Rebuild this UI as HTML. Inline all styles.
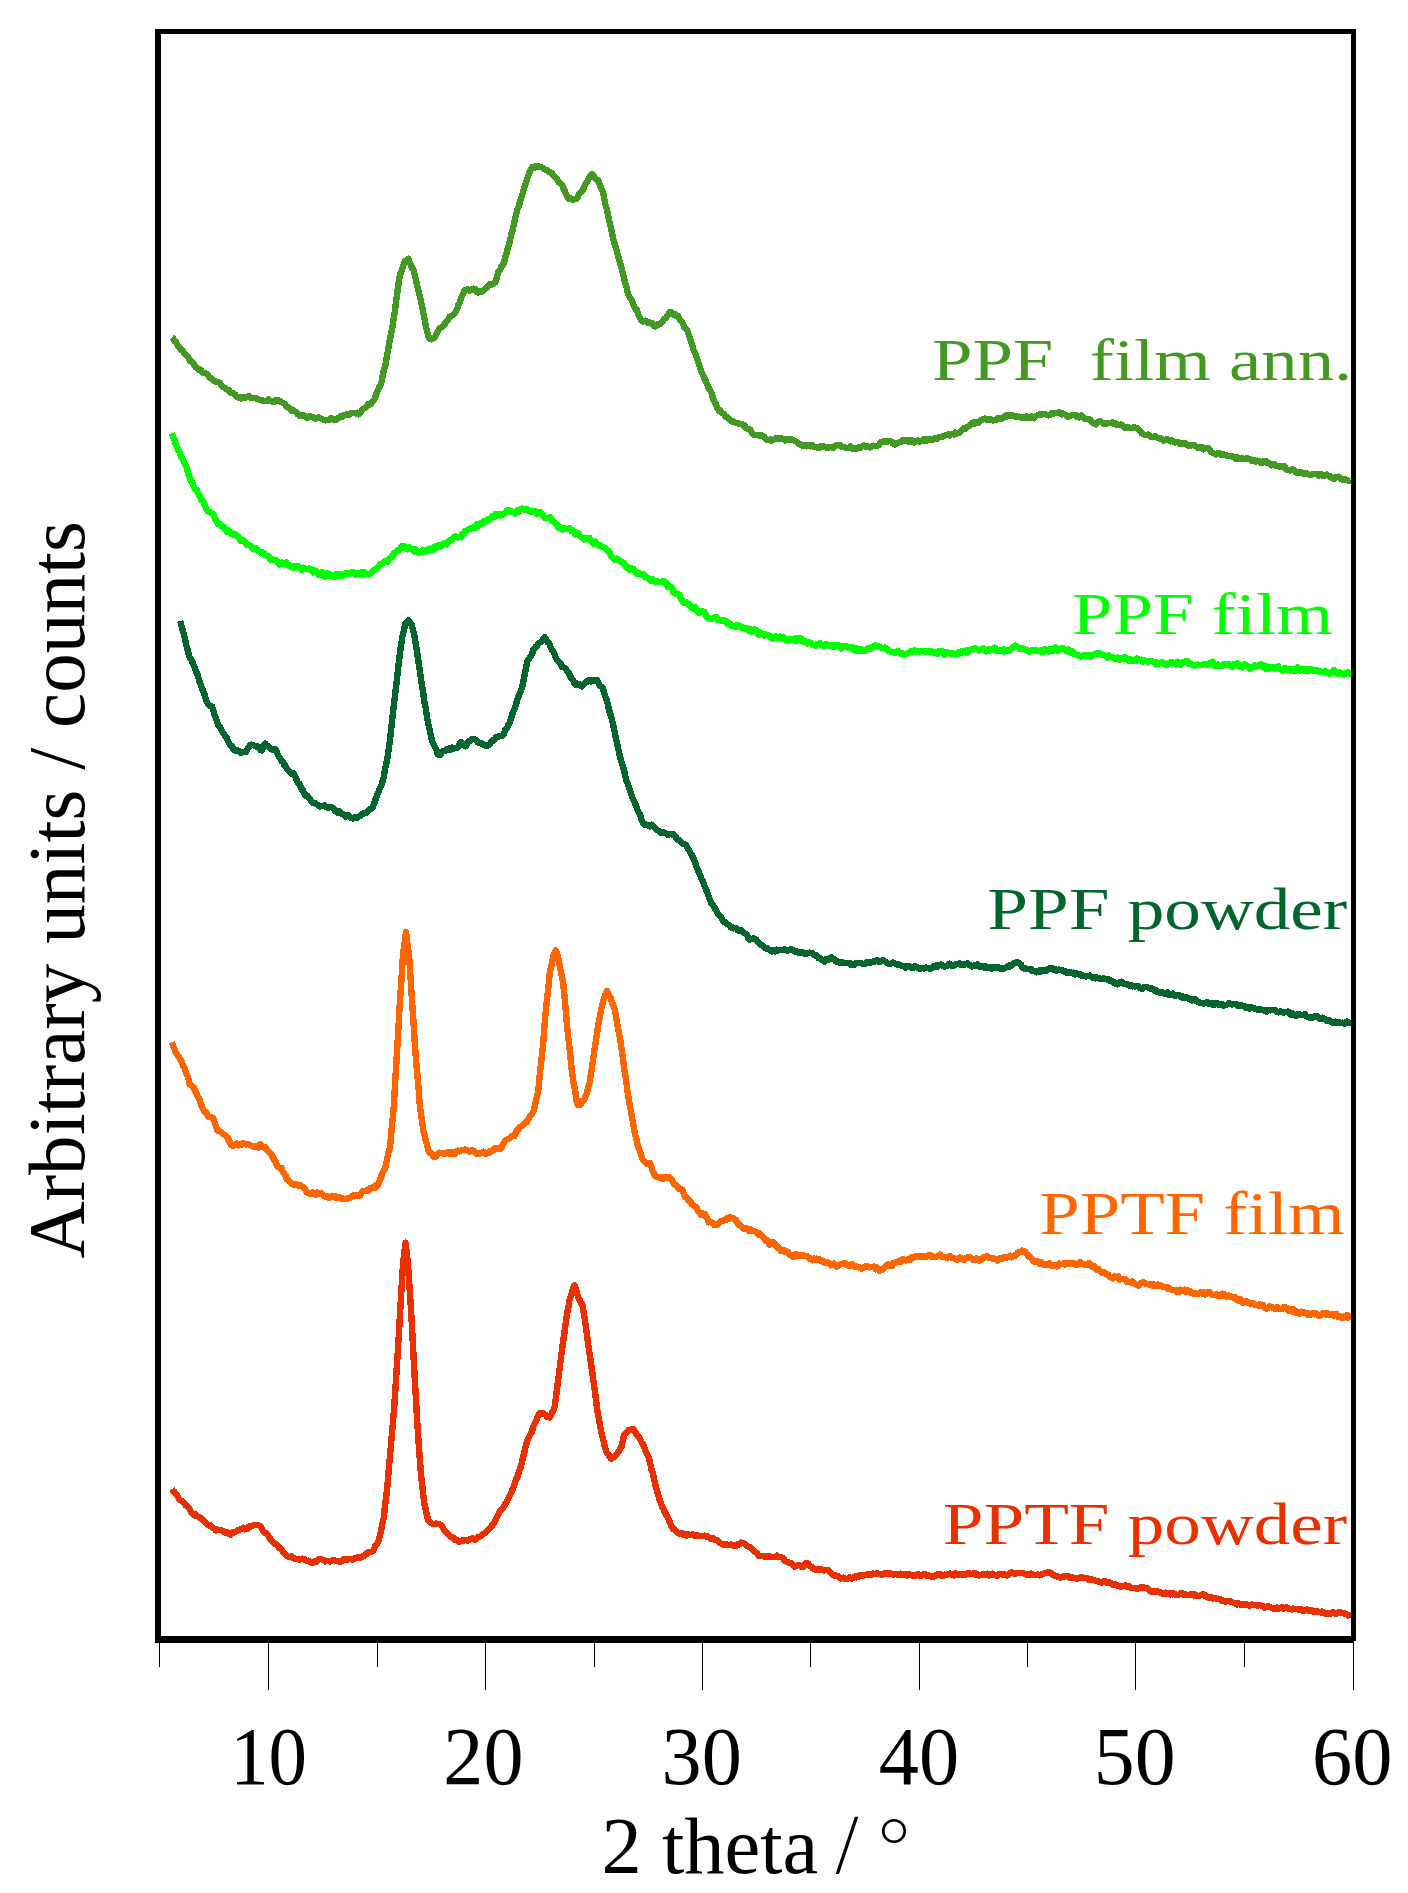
<!DOCTYPE html>
<html><head><meta charset="utf-8"><title>XRD</title>
<style>
html,body{margin:0;padding:0;background:#fff;}
body{width:1408px;height:1893px;overflow:hidden;font-family:"Liberation Serif",serif;}
.s{font-family:"Liberation Serif",serif;}
</style></head><body>
<svg width="1408" height="1893" viewBox="0 0 1408 1893" style="display:block">
<rect x="0" y="0" width="1408" height="1893" fill="#fff"/>
<path d="M171.9,337.4 L173.2,338.4 L174.5,341.2 L175.9,342.0 L177.2,344.6 L178.5,346.4 L179.8,348.2 L181.2,349.9 L182.7,350.7 L184.1,353.1 L185.5,354.1 L186.9,355.6 L188.4,358.0 L189.8,360.9 L191.2,361.2 L192.6,362.3 L194.0,364.5 L195.5,367.1 L196.9,368.0 L198.3,368.6 L199.7,370.4 L201.1,370.3 L202.5,372.7 L203.8,372.8 L205.2,373.1 L206.6,373.7 L208.0,375.1 L209.3,377.6 L210.7,377.7 L212.1,379.4 L213.5,380.7 L214.9,381.1 L216.3,382.3 L217.7,382.1 L219.0,382.6 L220.4,383.7 L221.8,386.0 L223.2,386.9 L224.6,387.9 L226.0,388.9 L227.3,389.6 L228.7,390.0 L230.0,391.9 L231.4,393.0 L232.7,392.8 L234.1,394.0 L235.4,394.9 L236.8,396.6 L238.1,397.5 L239.5,397.3 L240.9,398.6 L242.2,396.9 L243.6,397.0 L244.9,398.0 L246.3,396.8 L247.6,397.2 L249.0,396.3 L250.3,397.5 L251.7,398.3 L253.0,398.2 L254.4,398.3 L255.8,398.2 L257.2,399.0 L258.6,399.4 L260.1,399.7 L261.5,399.7 L262.9,400.9 L264.3,400.9 L265.7,401.0 L267.0,401.1 L268.4,399.5 L269.8,400.5 L271.1,400.9 L272.5,401.9 L273.9,401.9 L275.3,400.6 L276.6,400.2 L278.0,400.6 L279.4,400.5 L280.8,402.0 L282.2,402.6 L283.6,403.2 L285.0,404.0 L286.4,406.8 L287.8,406.9 L289.2,408.6 L290.6,408.9 L292.0,411.0 L293.3,410.3 L294.7,411.3 L296.1,412.3 L297.5,414.1 L298.8,415.1 L300.2,416.0 L301.6,415.2 L303.0,415.4 L304.4,415.5 L305.7,417.1 L307.1,418.2 L308.5,416.8 L309.9,416.4 L311.2,416.6 L312.6,416.8 L314.0,418.2 L315.4,418.5 L316.9,418.1 L318.3,417.3 L319.7,418.2 L321.1,418.5 L322.6,419.3 L324.0,420.0 L325.4,420.4 L326.7,419.8 L328.1,419.7 L329.4,419.7 L330.8,418.0 L332.1,419.3 L333.5,419.5 L334.8,419.8 L336.2,419.6 L337.5,418.4 L338.9,417.9 L340.3,416.5 L341.8,417.1 L343.2,415.6 L344.6,414.8 L346.0,414.6 L347.5,414.2 L348.9,415.0 L350.3,413.6 L351.7,413.0 L353.1,413.1 L354.6,412.9 L356.0,413.4 L357.4,412.6 L358.8,414.3 L360.3,413.2 L361.8,410.7 L363.3,409.0 L364.8,407.8 L366.3,406.9 L367.8,404.4 L369.2,404.6 L370.6,404.3 L372.1,402.0 L373.6,400.2 L375.0,398.1 L376.6,393.3 L378.1,390.0 L379.6,386.2 L381.2,383.7 L382.4,377.3 L383.6,370.8 L384.9,367.3 L386.1,361.3 L387.4,353.6 L388.6,347.3 L389.9,339.4 L391.1,333.7 L392.4,326.8 L393.6,319.1 L394.9,310.8 L396.1,301.6 L397.3,292.5 L398.6,283.2 L399.8,275.6 L401.2,271.5 L402.6,268.0 L404.0,263.0 L405.5,260.6 L407.0,260.2 L408.5,258.7 L409.8,262.5 L411.0,265.2 L412.2,268.0 L413.5,269.8 L414.8,274.8 L416.0,280.4 L417.2,285.6 L418.5,291.0 L420.1,297.2 L421.8,305.1 L423.4,313.5 L424.6,319.5 L425.9,326.4 L427.1,331.2 L428.4,336.9 L429.9,338.7 L431.5,339.3 L433.1,338.2 L434.6,337.9 L436.2,334.6 L437.7,331.7 L439.2,329.0 L440.8,327.6 L442.3,326.9 L443.8,325.5 L445.3,323.0 L446.8,321.4 L448.3,319.4 L449.8,316.7 L451.2,315.8 L452.6,315.1 L454.1,313.6 L455.6,311.9 L457.0,309.2 L458.5,304.6 L460.0,301.8 L461.4,297.3 L462.9,294.4 L464.4,290.5 L465.9,290.2 L467.4,289.5 L468.9,290.6 L470.4,290.4 L471.9,289.0 L473.4,288.7 L475.0,289.2 L476.6,291.8 L478.1,292.5 L479.6,290.9 L481.1,291.3 L482.6,291.4 L484.1,290.2 L485.6,288.4 L487.0,287.6 L488.4,285.6 L489.8,283.9 L491.3,285.0 L492.7,284.2 L494.1,283.0 L495.5,282.2 L497.1,276.5 L498.6,271.0 L499.9,270.3 L501.1,267.3 L502.4,265.1 L503.6,264.0 L505.2,257.6 L506.7,252.8 L508.2,246.8 L509.8,241.7 L511.3,234.2 L512.8,229.5 L514.3,222.4 L515.8,215.9 L517.3,209.7 L518.8,206.0 L520.3,200.5 L521.7,196.7 L523.2,191.3 L524.7,186.1 L526.3,182.0 L527.9,176.5 L529.4,172.8 L531.0,168.8 L532.5,166.9 L534.0,168.0 L535.4,166.5 L536.9,166.3 L538.4,166.3 L539.9,167.2 L541.4,167.3 L542.9,168.2 L544.4,169.2 L545.9,170.1 L547.4,170.2 L548.8,171.7 L550.2,172.2 L551.7,173.0 L553.1,175.3 L554.6,176.1 L556.1,178.0 L557.6,180.3 L559.0,182.6 L560.5,183.5 L562.0,184.9 L563.5,188.4 L565.1,191.7 L566.7,195.5 L568.2,198.5 L569.7,198.5 L571.2,198.4 L572.7,199.6 L574.2,199.4 L575.7,199.0 L577.2,198.2 L578.7,194.6 L580.2,192.7 L581.7,191.7 L583.2,189.1 L584.7,185.9 L586.1,182.8 L587.5,181.0 L589.0,178.0 L590.5,175.8 L591.9,174.1 L593.5,175.7 L595.0,177.9 L596.5,179.8 L598.1,179.7 L599.7,184.4 L601.4,188.7 L603.0,191.9 L604.2,198.5 L605.5,204.9 L606.8,209.0 L608.0,215.1 L609.5,221.7 L611.1,228.3 L612.7,236.4 L614.2,242.5 L615.7,247.2 L617.2,252.6 L618.7,258.3 L620.2,263.4 L621.7,268.9 L623.2,274.6 L624.8,281.9 L626.4,286.7 L627.9,293.9 L629.4,296.8 L630.9,298.7 L632.4,302.0 L633.9,305.9 L635.4,309.0 L636.9,310.3 L638.4,314.7 L639.8,317.6 L641.3,320.7 L642.8,321.4 L644.3,321.1 L645.8,320.7 L647.3,322.6 L648.8,322.3 L650.3,322.7 L651.8,323.1 L653.4,325.3 L655.0,326.4 L656.5,325.9 L658.0,323.8 L659.4,324.3 L660.9,322.9 L662.3,322.0 L663.8,319.4 L665.2,318.4 L666.6,316.9 L668.0,315.0 L669.5,312.1 L670.9,311.7 L672.2,313.1 L673.6,314.6 L674.9,314.0 L676.2,316.3 L677.6,315.8 L678.9,317.9 L680.4,320.1 L681.8,321.9 L683.2,324.5 L684.7,327.9 L686.1,329.0 L687.6,331.0 L689.1,336.0 L690.7,340.5 L692.2,344.9 L693.8,350.7 L695.3,353.4 L696.8,357.7 L698.2,362.0 L699.7,366.2 L701.2,371.3 L702.7,374.2 L704.2,378.0 L705.7,380.7 L707.2,384.3 L708.7,388.0 L710.2,390.5 L711.6,393.4 L713.0,398.3 L714.5,401.9 L716.0,404.4 L717.4,408.3 L718.8,410.7 L720.2,410.4 L721.6,412.8 L723.0,413.5 L724.4,414.7 L725.8,416.8 L727.2,417.3 L728.6,418.4 L730.0,419.6 L731.5,421.3 L733.0,420.8 L734.4,422.2 L735.8,422.9 L737.3,422.9 L738.8,423.7 L740.2,424.2 L741.6,424.1 L743.1,424.8 L744.5,425.5 L746.0,428.2 L747.4,428.6 L748.8,429.1 L750.2,429.6 L751.7,432.4 L753.1,434.3 L754.5,435.1 L755.9,435.1 L757.3,434.8 L758.6,435.0 L760.0,435.7 L761.3,435.4 L762.7,436.5 L764.2,436.5 L765.7,438.7 L767.2,440.1 L768.8,439.9 L770.3,439.3 L771.8,440.6 L773.1,440.0 L774.4,439.4 L775.7,438.0 L777.0,438.3 L778.3,438.6 L779.6,438.6 L780.9,438.2 L782.4,439.0 L784.0,438.7 L785.5,440.4 L787.0,439.3 L788.5,440.1 L790.0,439.5 L791.5,439.3 L793.0,439.9 L794.5,440.9 L795.8,441.5 L797.1,442.3 L798.4,443.5 L799.7,444.0 L801.0,444.7 L802.3,445.7 L803.6,444.9 L805.0,444.7 L806.5,446.3 L807.9,445.0 L809.3,446.0 L810.7,446.4 L812.1,445.1 L813.6,446.6 L815.0,446.9 L816.4,447.3 L817.9,447.4 L819.3,447.7 L820.8,446.0 L822.2,446.3 L823.7,446.4 L825.1,447.3 L826.6,447.6 L828.0,447.8 L829.5,447.2 L830.9,447.0 L832.3,447.6 L833.6,447.5 L835.0,446.3 L836.3,445.3 L837.7,445.1 L839.1,445.7 L840.4,445.3 L841.8,447.1 L843.1,447.2 L844.5,447.2 L845.9,447.7 L847.4,448.0 L848.8,447.7 L850.2,446.4 L851.6,448.0 L853.0,448.7 L854.5,448.4 L855.9,448.3 L857.3,448.5 L858.8,446.9 L860.2,447.7 L861.6,446.8 L863.0,445.7 L864.4,445.6 L865.9,446.7 L867.3,446.1 L868.6,446.6 L869.9,447.5 L871.2,446.6 L872.5,445.9 L873.8,445.7 L875.1,446.1 L876.4,445.9 L877.7,445.6 L879.0,445.0 L880.3,443.0 L881.6,441.9 L882.9,441.4 L884.2,442.1 L885.5,441.2 L887.0,441.8 L888.5,441.0 L890.0,441.0 L891.5,441.8 L893.0,443.5 L894.5,444.3 L895.9,444.3 L897.4,442.9 L898.8,442.6 L900.2,442.0 L901.6,441.5 L903.0,440.1 L904.5,441.2 L905.9,440.0 L907.3,441.3 L908.6,442.0 L910.0,440.0 L911.3,440.3 L912.7,441.5 L914.1,442.4 L915.4,441.6 L916.8,440.8 L918.1,440.4 L919.5,441.7 L920.8,440.7 L922.1,440.8 L923.4,439.5 L924.7,439.7 L926.0,440.8 L927.3,438.9 L928.6,439.3 L930.0,439.3 L931.5,440.0 L932.9,439.7 L934.3,438.3 L935.7,439.3 L937.1,438.7 L938.6,437.1 L940.0,437.3 L941.4,436.7 L942.9,436.6 L944.3,435.9 L945.7,435.0 L947.1,434.8 L948.5,434.5 L950.0,435.4 L951.4,434.1 L952.8,434.2 L954.1,434.6 L955.5,432.6 L956.8,433.6 L958.2,432.7 L959.7,432.8 L961.2,430.5 L962.8,429.2 L964.3,428.1 L965.8,428.7 L967.3,426.9 L968.6,426.0 L969.9,425.3 L971.2,424.3 L972.5,422.9 L973.8,422.1 L975.1,423.4 L976.4,422.5 L977.8,423.0 L979.2,421.3 L980.6,420.3 L982.0,420.2 L983.5,418.9 L984.9,418.6 L986.3,419.6 L987.7,418.8 L989.1,419.7 L990.6,419.4 L992.0,420.1 L993.4,420.5 L994.8,419.7 L996.2,419.9 L997.7,418.3 L999.1,419.2 L1000.5,418.5 L1001.8,418.5 L1003.2,417.9 L1004.5,416.3 L1005.9,415.4 L1007.2,416.4 L1008.5,415.2 L1009.8,415.5 L1011.1,415.3 L1012.4,415.1 L1013.7,416.2 L1015.0,416.4 L1016.5,416.3 L1018.0,417.1 L1019.5,416.7 L1021.1,417.4 L1022.6,417.5 L1024.1,417.8 L1025.5,416.7 L1026.9,416.4 L1028.4,418.0 L1029.8,417.5 L1031.2,416.4 L1032.7,417.6 L1034.1,418.3 L1035.5,416.6 L1036.9,415.6 L1038.3,415.0 L1039.7,414.4 L1041.2,414.7 L1042.6,414.1 L1044.0,414.1 L1045.4,414.1 L1046.8,415.0 L1048.3,415.4 L1049.9,415.0 L1051.4,413.5 L1052.9,413.3 L1054.4,413.4 L1056.0,413.1 L1057.5,412.8 L1059.0,412.0 L1060.5,412.9 L1062.0,414.6 L1063.5,413.7 L1065.0,414.6 L1066.5,415.6 L1068.0,416.9 L1069.5,416.3 L1070.8,415.5 L1072.2,415.0 L1073.5,415.1 L1074.8,415.1 L1076.2,416.4 L1077.5,415.7 L1079.0,417.3 L1080.4,415.8 L1081.9,415.4 L1083.3,417.3 L1084.8,419.0 L1086.2,418.9 L1087.7,419.3 L1089.1,418.7 L1090.4,419.8 L1091.8,422.0 L1093.1,423.2 L1094.5,423.3 L1095.9,424.6 L1097.2,422.9 L1098.6,421.7 L1100.0,421.3 L1101.3,422.1 L1102.7,422.8 L1104.1,423.8 L1105.5,423.7 L1106.8,423.4 L1108.2,422.9 L1109.7,423.1 L1111.1,423.3 L1112.6,422.2 L1114.0,423.8 L1115.5,423.2 L1116.9,424.9 L1118.4,424.6 L1119.7,424.8 L1121.1,424.6 L1122.4,425.1 L1123.7,426.8 L1125.1,428.0 L1126.4,427.9 L1127.9,426.7 L1129.4,427.6 L1131.0,428.1 L1132.5,427.9 L1134.0,427.3 L1135.5,428.2 L1137.0,427.9 L1138.5,429.1 L1140.0,430.5 L1141.5,433.1 L1143.0,433.9 L1144.5,434.6 L1146.0,435.1 L1147.5,434.6 L1149.0,434.6 L1150.6,436.7 L1152.1,437.2 L1153.6,436.8 L1155.0,435.9 L1156.4,437.1 L1157.9,438.3 L1159.3,438.4 L1160.7,438.2 L1162.2,439.5 L1163.6,440.9 L1165.0,440.1 L1166.4,439.1 L1167.8,439.6 L1169.3,440.2 L1170.7,441.3 L1172.1,440.6 L1173.6,442.0 L1175.0,442.6 L1176.4,442.2 L1177.8,441.8 L1179.2,443.7 L1180.6,443.0 L1182.1,444.2 L1183.5,443.4 L1184.9,443.2 L1186.3,444.7 L1187.7,444.6 L1189.1,446.1 L1190.5,445.8 L1192.0,445.0 L1193.4,444.9 L1194.8,445.5 L1196.2,446.6 L1197.7,448.0 L1199.1,446.9 L1200.5,447.0 L1201.9,447.0 L1203.4,449.3 L1204.8,448.4 L1206.2,448.0 L1207.7,448.1 L1209.1,449.3 L1210.5,451.1 L1211.9,452.6 L1213.3,452.9 L1214.7,454.0 L1216.2,454.5 L1217.6,453.5 L1219.0,452.8 L1220.4,454.7 L1221.8,454.7 L1223.2,454.0 L1224.7,455.3 L1226.1,455.4 L1227.5,455.7 L1228.9,456.0 L1230.3,455.9 L1231.8,455.7 L1233.2,457.4 L1234.6,457.0 L1236.0,458.8 L1237.4,457.5 L1238.8,459.1 L1240.3,457.9 L1241.7,457.8 L1243.1,458.9 L1244.5,458.8 L1245.9,459.1 L1247.3,458.1 L1248.8,459.0 L1250.2,459.3 L1251.6,461.1 L1253.1,460.2 L1254.5,460.5 L1255.9,461.7 L1257.3,460.7 L1258.8,461.2 L1260.2,462.5 L1261.6,463.1 L1263.0,461.6 L1264.5,461.0 L1265.9,461.0 L1267.3,463.1 L1268.7,462.8 L1270.1,464.1 L1271.5,465.3 L1272.9,464.6 L1274.4,464.3 L1275.8,466.1 L1277.2,466.3 L1278.6,465.8 L1280.0,466.8 L1281.4,466.6 L1282.9,466.7 L1284.3,466.2 L1285.7,468.3 L1287.2,469.9 L1288.6,470.1 L1290.0,470.4 L1291.4,469.6 L1292.8,469.6 L1294.3,470.4 L1295.7,472.2 L1297.1,473.2 L1298.6,472.4 L1300.0,471.9 L1301.4,472.5 L1302.8,472.7 L1304.2,474.0 L1305.6,472.8 L1307.1,473.9 L1308.5,474.4 L1309.9,474.8 L1311.3,475.0 L1312.7,474.2 L1314.1,474.1 L1315.5,474.0 L1317.0,474.1 L1318.4,475.5 L1319.8,474.4 L1321.2,474.4 L1322.7,475.9 L1324.1,475.9 L1325.5,474.8 L1326.9,474.6 L1328.4,475.9 L1329.8,475.9 L1331.2,477.8 L1332.7,478.4 L1334.1,479.1 L1335.5,477.4 L1337.0,476.8 L1338.5,476.7 L1340.0,478.0 L1341.5,479.3 L1343.0,479.5 L1344.5,479.7 L1345.8,479.6 L1347.1,480.3 L1348.4,480.8 L1349.7,481.3 L1351.0,480.5" fill="none" stroke="#439A23" stroke-width="6.4" stroke-linejoin="round" stroke-linecap="butt" shape-rendering="crispEdges"/>
<path d="M171.9,433.3 L173.2,437.6 L174.4,439.0 L175.7,444.3 L177.0,446.8 L178.4,450.2 L179.8,452.8 L181.3,457.1 L182.7,458.7 L184.1,462.1 L185.5,464.7 L186.9,468.0 L188.4,474.2 L189.8,477.9 L191.2,480.9 L192.6,482.9 L194.0,487.4 L195.4,489.0 L196.9,489.9 L198.3,493.8 L199.7,495.7 L201.1,500.2 L202.5,500.0 L203.9,502.8 L205.4,506.8 L206.8,510.1 L208.2,511.8 L209.6,511.8 L211.0,513.0 L212.5,513.7 L213.9,515.2 L215.3,519.7 L216.7,521.1 L218.2,523.9 L219.6,523.9 L221.0,525.7 L222.4,526.7 L223.8,526.6 L225.3,529.2 L226.7,531.6 L228.1,530.1 L229.5,531.9 L231.0,533.4 L232.4,533.1 L233.8,534.7 L235.2,534.4 L236.6,535.4 L238.1,536.6 L239.5,539.1 L240.9,541.0 L242.3,540.7 L243.8,540.5 L245.2,542.2 L246.6,545.0 L248.0,544.6 L249.4,545.3 L250.9,545.7 L252.3,548.5 L253.7,549.3 L255.2,548.2 L256.6,548.3 L258.0,550.7 L259.4,551.7 L260.8,553.3 L262.2,552.3 L263.6,552.6 L265.1,555.2 L266.5,555.8 L267.9,556.0 L269.3,557.3 L270.7,559.6 L272.1,558.9 L273.6,559.8 L275.0,559.8 L276.4,560.4 L277.8,562.7 L279.2,564.5 L280.7,563.3 L282.1,562.5 L283.5,564.2 L284.9,563.4 L286.3,562.3 L287.8,565.5 L289.2,565.2 L290.6,566.8 L292.0,566.1 L293.4,567.8 L294.9,567.1 L296.3,565.8 L297.7,566.3 L299.1,566.7 L300.5,568.0 L302.0,569.8 L303.4,567.7 L304.8,569.0 L306.2,568.8 L307.6,569.4 L309.1,568.5 L310.5,568.8 L311.9,570.4 L313.3,572.4 L314.7,570.6 L316.2,571.4 L317.6,573.2 L319.0,574.9 L320.4,573.0 L321.8,572.1 L323.3,575.0 L324.7,576.6 L326.1,575.2 L327.5,573.5 L329.0,575.8 L330.4,574.8 L331.8,576.4 L333.2,576.0 L334.6,576.6 L336.1,574.3 L337.5,575.7 L338.9,574.1 L340.4,574.1 L341.8,575.8 L343.2,575.5 L344.6,574.2 L346.0,573.3 L347.5,573.4 L348.9,573.9 L350.3,573.5 L351.7,572.3 L353.1,572.1 L354.6,573.8 L356.0,575.1 L357.4,573.0 L358.8,573.2 L360.2,574.4 L361.7,572.2 L363.1,574.3 L364.5,572.6 L365.9,573.7 L367.4,574.0 L368.8,574.5 L370.2,573.8 L371.6,572.2 L373.0,571.5 L374.4,569.9 L375.9,569.3 L377.3,567.5 L378.7,566.0 L380.1,564.1 L381.5,563.6 L383.0,562.9 L384.4,561.1 L385.8,561.9 L387.2,561.8 L388.6,560.0 L390.1,557.7 L391.5,557.6 L392.9,554.7 L394.3,553.0 L395.7,552.6 L397.1,550.4 L398.6,550.1 L400.0,549.4 L401.4,546.6 L402.8,547.2 L404.2,545.9 L405.6,548.1 L407.1,549.4 L408.5,549.2 L409.9,547.5 L411.3,548.7 L412.7,548.9 L414.2,551.4 L415.6,549.6 L417.0,551.1 L418.4,552.9 L419.9,552.3 L421.3,552.2 L422.7,549.8 L424.1,551.6 L425.5,550.4 L427.0,551.5 L428.4,550.3 L429.8,548.7 L431.2,549.5 L432.7,550.1 L434.1,546.9 L435.5,546.3 L436.9,547.3 L438.3,545.3 L439.8,546.9 L441.2,545.0 L442.6,545.4 L444.0,543.4 L445.4,543.2 L446.9,544.3 L448.3,541.7 L449.7,540.3 L451.1,540.3 L452.5,539.1 L454.0,537.2 L455.4,536.4 L456.8,537.0 L458.2,537.5 L459.6,536.9 L461.1,536.9 L462.5,533.6 L463.9,533.9 L465.3,530.9 L466.7,530.6 L468.2,530.3 L469.6,528.6 L471.0,528.5 L472.4,528.1 L473.8,527.2 L475.3,527.6 L476.7,524.4 L478.1,526.0 L479.5,524.9 L480.9,523.2 L482.4,523.5 L483.8,521.3 L485.2,521.6 L486.6,521.3 L488.0,519.4 L489.5,519.8 L490.9,518.3 L492.3,516.2 L493.7,517.1 L495.1,514.4 L496.6,515.7 L498.0,513.8 L499.4,513.9 L500.8,515.5 L502.2,514.6 L503.7,514.4 L505.1,512.9 L506.5,510.9 L507.9,510.0 L509.4,510.0 L510.8,512.0 L512.2,511.6 L513.6,511.8 L515.1,513.3 L516.5,511.0 L517.9,510.2 L519.3,511.4 L520.7,509.5 L522.2,508.5 L523.6,509.3 L525.0,510.0 L526.3,509.5 L527.7,509.5 L529.0,511.0 L530.3,511.8 L531.7,510.7 L533.0,512.0 L534.4,512.3 L535.8,511.3 L537.2,514.1 L538.6,512.9 L540.0,512.2 L541.4,513.2 L542.8,514.5 L544.2,517.1 L545.6,518.4 L547.0,518.0 L548.5,517.8 L549.9,517.2 L551.3,519.9 L552.7,521.2 L554.1,521.7 L555.6,523.7 L557.0,524.4 L558.4,527.2 L559.8,528.3 L561.3,527.6 L562.7,529.5 L564.1,528.1 L565.5,529.2 L566.9,529.3 L568.4,528.9 L569.8,528.2 L571.2,530.8 L572.6,530.4 L574.0,531.4 L575.4,534.4 L576.9,533.2 L578.3,533.4 L579.7,535.6 L581.1,536.8 L582.5,537.9 L584.0,539.4 L585.4,538.0 L586.8,538.3 L588.2,538.7 L589.7,538.2 L591.1,541.3 L592.5,543.0 L593.9,543.7 L595.3,541.7 L596.8,544.2 L598.2,545.4 L599.6,545.1 L601.0,545.7 L602.4,547.2 L603.9,547.5 L605.3,548.0 L606.7,549.6 L608.1,550.4 L609.6,552.8 L611.0,556.2 L612.4,557.6 L613.8,559.2 L615.2,559.8 L616.7,558.7 L618.1,559.7 L619.5,560.1 L620.9,561.4 L622.3,562.8 L623.8,562.8 L625.2,564.9 L626.6,567.7 L628.0,566.8 L629.5,569.6 L630.9,569.0 L632.3,568.6 L633.7,569.1 L635.1,571.5 L636.6,573.7 L638.0,574.3 L639.4,573.3 L640.8,574.4 L642.2,574.5 L643.6,574.1 L645.1,576.8 L646.5,577.3 L647.9,578.2 L649.4,578.8 L650.8,580.6 L652.2,579.3 L653.6,581.0 L655.0,581.3 L656.5,582.2 L657.9,581.3 L659.3,582.2 L660.7,582.3 L662.2,581.6 L663.6,581.1 L665.0,582.8 L666.4,582.7 L667.8,586.7 L669.2,586.4 L670.7,586.7 L672.1,588.0 L673.5,592.6 L674.9,593.5 L676.3,593.4 L677.7,593.7 L679.1,594.6 L680.6,598.2 L682.0,600.4 L683.4,602.3 L684.8,603.2 L686.2,602.3 L687.7,603.9 L689.1,604.1 L690.5,606.3 L691.9,607.6 L693.4,608.9 L694.8,607.0 L696.2,609.5 L697.6,611.5 L699.0,613.1 L700.5,611.2 L701.9,611.4 L703.3,611.6 L704.7,612.0 L706.1,615.8 L707.5,617.6 L709.0,617.9 L710.4,619.1 L711.8,619.2 L713.2,618.3 L714.6,617.4 L716.1,617.3 L717.5,620.1 L718.9,619.4 L720.4,619.9 L721.8,620.7 L723.2,619.9 L724.6,620.6 L726.0,621.3 L727.5,623.6 L728.9,623.8 L730.3,623.5 L731.7,626.1 L733.2,625.7 L734.6,627.1 L736.0,627.0 L737.4,625.0 L738.8,625.7 L740.3,626.3 L741.7,628.1 L743.1,627.6 L744.5,628.9 L745.9,629.2 L747.4,628.4 L748.8,630.7 L750.2,629.1 L751.6,631.5 L753.0,630.3 L754.5,629.5 L755.9,630.1 L757.3,632.8 L758.7,635.0 L760.1,632.5 L761.6,633.5 L763.0,634.1 L764.4,635.8 L765.8,634.5 L767.2,635.2 L768.7,635.3 L770.1,637.3 L771.5,636.6 L772.9,638.5 L774.3,637.1 L775.8,636.3 L777.2,638.0 L778.6,638.1 L780.0,636.7 L781.4,638.3 L782.9,637.0 L784.3,639.2 L785.7,639.5 L787.1,640.7 L788.5,640.4 L790.0,639.3 L791.4,639.0 L792.8,638.8 L794.2,640.7 L795.6,638.5 L797.1,640.6 L798.5,638.3 L799.9,639.0 L801.3,638.5 L802.7,641.4 L804.2,641.4 L805.6,641.2 L807.0,643.3 L808.4,642.0 L809.8,642.5 L811.3,643.3 L812.7,644.7 L814.1,644.8 L815.5,645.5 L816.9,644.3 L818.4,643.8 L819.8,643.0 L821.2,645.2 L822.6,645.6 L824.0,646.2 L825.4,644.3 L826.9,644.5 L828.3,645.9 L829.7,645.9 L831.1,644.9 L832.5,644.9 L833.9,646.9 L835.4,645.5 L836.8,644.8 L838.2,645.1 L839.6,646.8 L841.0,648.3 L842.5,646.4 L843.9,645.8 L845.3,646.9 L846.7,646.4 L848.1,647.5 L849.6,646.8 L851.0,647.2 L852.4,647.0 L853.8,650.0 L855.2,650.5 L856.7,648.5 L858.1,651.0 L859.5,649.5 L860.9,648.9 L862.4,651.1 L863.8,651.3 L865.2,651.1 L866.6,649.8 L868.0,648.3 L869.5,649.2 L870.9,648.4 L872.3,646.8 L873.7,646.8 L875.1,645.3 L876.6,645.7 L878.0,647.1 L879.4,646.6 L880.8,647.3 L882.2,648.2 L883.7,648.3 L885.1,647.5 L886.5,649.2 L887.9,649.6 L889.4,651.4 L890.8,652.0 L892.2,652.1 L893.6,652.2 L895.1,653.0 L896.5,652.2 L897.9,651.2 L899.4,652.8 L900.8,654.2 L902.2,653.4 L903.6,654.1 L905.0,654.4 L906.4,653.8 L907.9,653.3 L909.3,652.2 L910.7,651.1 L912.1,651.7 L913.5,650.7 L914.9,650.3 L916.4,651.9 L917.8,652.3 L919.2,652.2 L920.6,650.7 L922.1,650.7 L923.5,650.8 L924.9,651.4 L926.3,650.9 L927.8,651.7 L929.2,651.9 L930.6,650.9 L932.0,651.8 L933.4,652.8 L934.8,651.8 L936.2,651.8 L937.6,653.8 L939.0,651.2 L940.4,652.0 L941.7,651.0 L943.1,653.0 L944.5,654.6 L945.9,653.7 L947.3,651.9 L948.7,652.9 L950.1,653.3 L951.5,653.7 L952.9,653.6 L954.2,653.7 L955.6,654.4 L957.0,653.4 L958.4,652.4 L959.7,653.9 L961.1,651.6 L962.5,652.3 L963.8,651.4 L965.2,652.3 L966.6,650.1 L968.0,652.3 L969.3,650.8 L970.7,649.8 L972.1,648.8 L973.5,649.3 L974.9,648.0 L976.3,648.9 L977.7,649.3 L979.1,650.5 L980.5,649.7 L981.9,648.9 L983.3,648.4 L984.7,650.1 L986.1,651.6 L987.5,650.7 L988.9,649.0 L990.3,650.5 L991.7,649.5 L993.1,649.1 L994.5,647.7 L995.9,649.9 L997.4,651.1 L998.8,651.0 L1000.2,650.4 L1001.6,650.6 L1003.1,649.4 L1004.5,651.8 L1005.9,650.5 L1007.2,650.5 L1008.5,650.9 L1009.8,650.8 L1011.1,649.1 L1012.5,647.4 L1013.8,647.3 L1015.1,645.4 L1016.4,646.5 L1017.9,646.8 L1019.4,649.0 L1020.8,648.1 L1022.3,648.6 L1023.8,648.7 L1025.2,649.8 L1026.7,649.8 L1028.2,651.1 L1029.6,651.6 L1030.9,650.8 L1032.3,650.1 L1033.7,650.0 L1035.1,650.5 L1036.4,650.4 L1037.8,651.1 L1039.2,651.3 L1040.5,650.2 L1041.9,651.8 L1043.3,652.1 L1044.7,649.1 L1046.0,650.6 L1047.4,650.3 L1048.8,651.5 L1050.1,649.2 L1051.5,650.8 L1052.9,650.8 L1054.3,648.5 L1055.6,647.4 L1057.0,650.6 L1058.4,650.9 L1059.7,649.6 L1061.1,648.4 L1062.5,648.1 L1063.9,648.4 L1065.2,650.6 L1066.6,650.3 L1068.1,649.4 L1069.5,652.2 L1071.0,653.2 L1072.4,651.5 L1073.9,653.8 L1075.3,653.9 L1076.8,654.9 L1078.2,655.1 L1079.7,656.3 L1081.1,656.6 L1082.6,655.9 L1084.0,654.9 L1085.3,655.7 L1086.7,655.5 L1088.1,656.2 L1089.5,655.4 L1090.8,656.7 L1092.2,656.1 L1093.6,654.7 L1094.9,654.0 L1096.3,653.3 L1097.7,654.3 L1099.1,653.2 L1100.4,654.2 L1101.8,654.6 L1103.2,654.7 L1104.5,655.3 L1105.9,655.9 L1107.3,657.5 L1108.6,655.1 L1110.0,657.3 L1111.3,657.0 L1112.7,657.3 L1114.1,657.9 L1115.4,659.0 L1116.8,657.8 L1118.2,657.6 L1119.5,659.7 L1120.9,657.9 L1122.3,658.4 L1123.6,659.0 L1125.0,657.0 L1126.4,658.4 L1127.8,659.3 L1129.1,660.8 L1130.5,659.2 L1131.9,661.0 L1133.2,660.1 L1134.6,659.7 L1136.0,661.1 L1137.4,658.6 L1138.7,660.1 L1140.1,660.1 L1141.5,659.7 L1142.8,661.5 L1144.2,660.5 L1145.6,660.6 L1147.0,661.0 L1148.3,662.2 L1149.7,660.8 L1151.1,661.1 L1152.4,661.3 L1153.8,662.1 L1155.2,663.5 L1156.6,662.3 L1157.9,663.9 L1159.3,663.1 L1160.7,663.1 L1162.1,662.2 L1163.5,662.7 L1164.9,664.6 L1166.3,664.3 L1167.7,664.7 L1169.1,663.1 L1170.5,662.4 L1171.9,661.9 L1173.3,662.9 L1174.7,663.4 L1176.1,664.3 L1177.5,661.8 L1178.9,663.3 L1180.3,664.6 L1181.7,663.4 L1183.1,661.7 L1184.5,661.8 L1185.9,660.7 L1187.3,660.9 L1188.7,663.8 L1190.1,664.0 L1191.5,664.3 L1192.8,665.0 L1194.2,665.7 L1195.6,665.0 L1197.0,664.7 L1198.4,664.6 L1199.8,664.9 L1201.2,664.7 L1202.6,664.9 L1204.0,663.7 L1205.4,664.3 L1206.8,664.0 L1208.2,665.1 L1209.6,663.1 L1211.0,662.5 L1212.4,661.8 L1213.8,664.2 L1215.2,665.9 L1216.6,665.7 L1218.0,664.6 L1219.4,665.8 L1220.8,666.3 L1222.2,665.7 L1223.6,664.3 L1225.0,663.9 L1226.4,664.6 L1227.8,664.0 L1229.2,664.3 L1230.6,665.4 L1232.0,667.0 L1233.4,664.4 L1234.8,665.2 L1236.2,663.7 L1237.6,663.3 L1239.0,665.8 L1240.4,666.1 L1241.8,667.5 L1243.2,666.5 L1244.6,664.4 L1246.0,664.9 L1247.4,666.0 L1248.8,666.8 L1250.2,668.9 L1251.6,667.5 L1253.0,666.7 L1254.4,665.2 L1255.8,666.7 L1257.2,665.8 L1258.6,665.2 L1259.9,664.5 L1261.3,664.2 L1262.7,666.7 L1264.1,665.8 L1265.5,668.6 L1266.9,666.6 L1268.3,668.8 L1269.7,667.0 L1271.1,667.2 L1272.5,668.0 L1273.9,667.2 L1275.3,668.8 L1276.7,667.4 L1278.1,666.3 L1279.5,668.7 L1280.9,669.5 L1282.3,670.5 L1283.7,670.5 L1285.1,668.1 L1286.5,669.1 L1287.9,669.9 L1289.3,669.4 L1290.7,671.0 L1292.1,669.2 L1293.5,670.1 L1294.9,671.1 L1296.3,668.5 L1297.7,667.3 L1299.1,669.3 L1300.5,670.9 L1301.9,668.8 L1303.3,668.9 L1304.7,670.5 L1306.1,669.2 L1307.5,671.3 L1308.9,670.8 L1310.3,669.1 L1311.7,669.5 L1313.1,670.6 L1314.5,670.6 L1315.9,671.2 L1317.3,669.9 L1318.6,671.8 L1320.0,671.0 L1321.4,671.7 L1322.8,672.0 L1324.1,671.4 L1325.5,671.0 L1326.9,672.4 L1328.2,673.7 L1329.6,673.7 L1331.0,672.9 L1332.4,671.5 L1333.7,670.0 L1335.1,672.3 L1336.5,673.2 L1338.0,673.9 L1339.4,672.3 L1340.9,672.7 L1342.3,674.4 L1343.8,674.6 L1345.2,673.9 L1346.7,672.5 L1348.1,672.4 L1349.6,674.1 L1351.0,672.9" fill="none" stroke="#00FF00" stroke-width="6.4" stroke-linejoin="round" stroke-linecap="butt" shape-rendering="crispEdges"/>
<path d="M180.3,621.0 L181.8,626.9 L183.3,632.3 L184.8,637.8 L186.3,645.4 L187.8,650.6 L189.3,656.7 L190.7,658.4 L192.0,661.4 L193.3,664.5 L194.7,667.4 L196.0,672.0 L197.2,673.4 L198.5,678.2 L199.7,682.2 L201.0,685.1 L202.6,689.8 L204.1,693.0 L205.6,698.4 L207.2,702.4 L208.4,704.2 L209.6,706.0 L210.9,706.0 L212.1,706.5 L213.3,710.3 L214.6,715.0 L215.8,717.5 L217.1,722.0 L218.7,726.0 L220.2,727.3 L221.8,730.5 L223.3,733.2 L224.6,735.4 L225.8,736.6 L227.1,738.5 L228.3,741.8 L229.6,744.5 L230.8,745.7 L232.1,746.2 L233.3,749.3 L234.9,750.5 L236.4,749.8 L237.9,750.7 L239.5,751.6 L241.1,752.9 L242.6,752.4 L244.1,752.1 L245.7,752.3 L247.1,749.5 L248.6,747.2 L250.0,745.1 L251.4,744.7 L252.8,744.8 L254.1,745.7 L255.5,745.9 L256.9,746.7 L258.1,746.6 L259.4,746.8 L260.6,750.1 L261.9,750.4 L263.5,745.9 L265.1,743.6 L266.5,745.8 L267.9,745.8 L269.2,747.7 L270.6,748.9 L272.2,749.6 L273.7,748.9 L275.2,749.0 L276.8,751.8 L278.4,756.0 L280.1,758.5 L281.7,761.3 L283.0,762.2 L284.2,764.8 L285.5,765.9 L286.7,768.7 L288.0,769.5 L289.6,771.8 L291.3,773.5 L292.9,772.9 L294.1,774.4 L295.4,777.0 L296.6,779.6 L297.9,783.2 L299.1,783.4 L300.4,786.3 L301.6,789.3 L302.9,790.3 L304.3,793.5 L305.8,795.8 L307.2,795.6 L308.7,798.0 L310.2,799.6 L311.6,801.3 L313.1,803.2 L314.6,802.8 L316.0,803.8 L317.5,804.8 L319.0,805.7 L320.4,806.5 L321.9,805.9 L323.4,805.9 L324.8,805.3 L326.2,807.4 L327.7,807.5 L329.1,807.5 L330.6,806.8 L332.0,807.5 L333.5,808.5 L334.9,810.8 L336.4,811.4 L337.9,813.1 L339.4,811.6 L340.9,813.5 L342.4,814.4 L343.9,814.6 L345.4,816.7 L346.9,815.1 L348.3,815.0 L349.8,817.0 L351.3,818.0 L352.8,818.5 L354.3,817.2 L355.8,817.4 L357.3,817.9 L358.8,816.7 L360.3,815.4 L361.8,814.5 L363.3,813.3 L364.8,813.3 L366.3,812.8 L367.9,810.8 L369.4,809.2 L370.9,809.3 L372.5,807.7 L374.1,803.9 L375.8,798.6 L377.4,794.4 L378.6,792.1 L379.9,787.7 L381.1,785.9 L382.4,782.1 L383.6,777.6 L384.9,770.1 L386.1,764.5 L387.4,758.6 L388.6,749.8 L389.9,740.5 L391.1,729.7 L392.3,718.8 L393.6,707.4 L394.8,697.2 L396.1,686.4 L397.3,675.9 L398.6,664.3 L399.8,654.4 L401.1,644.6 L402.3,637.2 L403.9,630.5 L405.5,623.2 L407.0,622.6 L408.5,620.2 L410.0,622.2 L411.5,624.4 L413.1,629.9 L414.7,637.5 L416.0,645.3 L417.2,652.8 L418.5,661.9 L420.1,672.2 L421.8,684.5 L423.4,694.2 L424.6,703.0 L425.9,708.6 L427.1,717.6 L428.4,724.6 L429.6,729.7 L430.9,735.6 L432.1,741.4 L433.5,743.8 L435.0,746.6 L436.4,750.0 L437.8,754.5 L439.2,755.3 L440.5,754.8 L441.9,752.0 L443.2,750.9 L444.6,751.2 L446.1,749.4 L447.6,749.9 L449.0,748.6 L450.5,749.6 L452.0,747.6 L453.2,748.7 L454.5,748.3 L455.8,747.7 L457.0,748.3 L458.2,746.9 L459.5,744.7 L460.7,742.1 L461.9,742.8 L463.2,745.2 L464.4,744.9 L465.7,746.2 L467.2,743.3 L468.8,741.1 L470.3,740.7 L471.9,739.0 L473.4,739.2 L475.0,739.4 L476.6,740.1 L478.1,742.7 L479.7,743.3 L481.2,743.4 L482.8,743.6 L484.3,745.3 L485.7,745.6 L487.1,745.9 L488.5,745.2 L489.9,744.0 L491.2,741.4 L492.4,741.4 L493.7,739.7 L494.9,739.1 L496.2,736.8 L497.7,737.0 L499.2,735.7 L500.6,736.2 L502.1,736.2 L503.6,734.4 L505.2,730.0 L506.7,728.7 L508.2,725.1 L509.8,722.3 L511.4,717.3 L512.9,712.2 L514.5,709.3 L516.0,704.3 L517.6,699.0 L519.1,694.9 L520.7,691.2 L522.3,686.4 L523.5,680.2 L524.8,674.1 L526.0,668.2 L527.2,661.6 L528.8,659.1 L530.3,656.8 L531.9,654.2 L533.4,649.8 L534.6,648.8 L535.9,646.6 L537.1,645.7 L538.4,643.1 L540.0,642.5 L541.5,641.7 L543.0,639.2 L544.6,636.9 L546.1,639.6 L547.7,642.2 L549.2,643.4 L550.8,647.5 L552.0,649.6 L553.3,651.7 L554.5,654.0 L555.8,657.8 L557.3,660.8 L558.9,661.5 L560.5,663.3 L562.0,667.0 L563.5,667.4 L565.1,667.8 L566.7,670.3 L568.2,672.1 L569.8,675.0 L571.4,678.3 L572.9,679.7 L574.5,683.6 L576.0,684.8 L577.5,683.7 L578.9,683.8 L580.4,685.2 L581.9,686.4 L583.4,684.6 L584.9,682.8 L586.4,682.2 L587.9,680.5 L589.4,680.6 L590.9,681.5 L592.4,680.0 L593.8,680.4 L595.3,681.1 L596.8,680.0 L598.3,682.9 L599.9,685.8 L601.5,686.6 L603.0,688.2 L604.2,693.2 L605.5,696.8 L606.8,700.3 L608.0,704.9 L609.2,710.7 L610.5,714.5 L611.8,718.7 L613.0,724.0 L614.2,729.4 L615.5,736.6 L616.8,742.5 L618.0,747.4 L619.6,755.0 L621.3,761.6 L622.9,766.3 L624.1,770.7 L625.4,776.4 L626.6,781.3 L627.9,783.9 L629.1,787.5 L630.4,791.7 L631.6,794.9 L632.9,798.9 L634.5,801.8 L636.2,806.4 L637.8,811.2 L639.0,812.6 L640.3,815.2 L641.5,820.3 L642.8,822.9 L644.2,824.6 L645.7,824.5 L647.1,825.1 L648.6,825.9 L650.0,826.4 L651.5,824.8 L653.0,826.6 L654.6,827.3 L656.2,829.5 L657.7,830.5 L659.2,831.1 L660.6,832.8 L662.0,833.1 L663.5,832.4 L665.0,833.1 L666.4,833.6 L667.9,835.1 L669.4,834.1 L670.9,833.8 L672.4,834.8 L673.9,834.5 L675.4,836.2 L676.9,839.1 L678.3,840.0 L679.8,840.5 L681.3,842.3 L682.6,843.6 L683.8,843.9 L685.1,844.6 L686.3,845.7 L687.6,848.1 L689.1,850.5 L690.7,853.2 L692.2,855.8 L693.8,859.1 L695.3,862.9 L696.9,867.9 L698.5,871.6 L700.0,874.9 L701.5,879.1 L703.1,881.6 L704.7,886.2 L706.2,889.6 L707.5,893.2 L708.7,896.8 L710.0,900.0 L711.2,903.1 L712.8,904.8 L714.3,907.0 L715.9,910.2 L717.4,913.0 L719.0,915.4 L720.5,916.2 L722.0,918.7 L723.6,922.1 L725.0,922.3 L726.4,923.6 L727.8,924.5 L729.3,924.8 L730.7,927.4 L732.1,927.1 L733.5,928.4 L734.9,928.1 L736.3,927.9 L737.7,930.3 L739.1,930.6 L740.5,930.0 L741.9,931.0 L743.3,931.9 L744.7,933.3 L746.0,933.7 L747.2,935.0 L748.5,938.5 L749.7,939.7 L751.2,938.8 L752.8,938.6 L754.4,938.6 L755.9,939.4 L757.4,941.0 L758.8,943.0 L760.2,944.5 L761.7,945.0 L763.1,946.5 L764.6,947.2 L766.0,948.6 L767.5,948.5 L768.9,949.6 L770.3,950.2 L771.7,951.4 L773.2,950.1 L774.6,951.4 L776.1,949.7 L777.6,950.6 L779.0,950.3 L780.5,949.7 L782.0,949.7 L783.5,950.0 L784.9,949.3 L786.4,950.1 L787.8,950.6 L789.2,950.1 L790.7,949.2 L792.2,949.7 L793.6,950.3 L795.0,951.7 L796.5,951.4 L798.0,951.9 L799.4,953.0 L800.9,952.7 L802.3,952.3 L803.8,953.5 L805.2,954.2 L806.6,953.5 L808.1,953.0 L809.6,952.7 L811.1,953.2 L812.6,953.3 L814.1,954.9 L815.6,955.9 L817.1,955.6 L818.6,958.2 L820.0,958.1 L821.5,960.0 L823.0,960.4 L824.4,961.5 L825.8,959.4 L827.2,958.9 L828.6,959.8 L830.0,958.1 L831.4,957.2 L832.8,958.7 L834.2,959.4 L835.6,961.2 L837.1,961.7 L838.5,961.6 L839.9,963.0 L841.3,962.0 L842.8,962.5 L844.2,963.1 L845.7,962.8 L847.1,962.7 L848.6,963.5 L850.1,963.4 L851.5,965.2 L853.0,964.9 L854.4,964.8 L855.8,963.1 L857.3,963.0 L858.7,962.9 L860.1,963.1 L861.5,963.1 L862.9,963.9 L864.3,964.3 L865.8,963.0 L867.2,962.1 L868.6,961.9 L870.0,963.2 L871.4,961.8 L872.9,961.6 L874.3,962.2 L875.7,960.7 L877.1,960.3 L878.5,961.9 L879.9,962.2 L881.4,961.4 L882.8,959.8 L884.2,960.8 L885.6,961.8 L887.0,962.7 L888.5,963.8 L889.9,964.3 L891.3,963.5 L892.7,962.6 L894.1,962.9 L895.5,963.8 L897.0,964.5 L898.4,964.2 L899.8,965.1 L901.2,965.5 L902.6,966.1 L903.9,965.8 L905.3,967.5 L906.7,967.4 L908.1,965.7 L909.5,966.1 L910.9,967.4 L912.2,966.8 L913.6,967.6 L915.0,966.2 L916.4,966.5 L917.8,968.2 L919.2,968.4 L920.5,968.7 L921.9,967.7 L923.3,968.3 L924.7,968.3 L926.1,967.4 L927.4,968.0 L928.8,967.9 L930.2,969.0 L931.6,968.3 L932.9,967.4 L934.3,966.1 L935.7,965.5 L937.1,966.8 L938.4,965.5 L939.8,964.8 L941.2,964.6 L942.6,965.4 L943.9,966.5 L945.3,966.4 L946.7,966.0 L948.1,964.8 L949.5,963.8 L950.9,965.4 L952.3,964.8 L953.7,965.6 L955.1,964.9 L956.5,964.0 L957.9,963.9 L959.3,963.3 L960.7,965.2 L962.1,965.1 L963.5,964.4 L964.9,964.3 L966.3,964.3 L967.7,963.2 L969.1,965.2 L970.5,965.3 L971.9,966.5 L973.3,965.7 L974.7,965.9 L976.0,965.0 L977.4,964.1 L978.8,966.3 L980.2,967.1 L981.6,966.0 L983.0,967.3 L984.4,967.7 L985.8,966.4 L987.2,966.9 L988.6,968.1 L990.0,967.5 L991.4,968.5 L992.8,967.1 L994.2,966.9 L995.5,967.9 L996.9,967.0 L998.3,966.9 L999.7,968.5 L1001.1,968.2 L1002.5,969.1 L1003.9,968.0 L1005.3,968.0 L1006.8,966.8 L1008.2,965.7 L1009.7,966.9 L1011.1,965.2 L1012.6,964.8 L1014.1,962.9 L1015.5,962.9 L1017.0,962.3 L1018.3,963.2 L1019.6,963.4 L1020.9,964.3 L1022.2,967.3 L1023.5,968.0 L1024.8,969.2 L1026.3,968.6 L1027.8,969.0 L1029.2,969.3 L1030.7,969.0 L1032.2,970.9 L1033.6,971.0 L1035.1,970.7 L1036.6,972.3 L1038.0,970.8 L1039.4,970.4 L1040.9,971.7 L1042.3,970.0 L1043.7,970.0 L1045.1,970.9 L1046.5,971.0 L1047.9,969.0 L1049.4,968.5 L1050.8,969.1 L1052.2,968.3 L1053.6,970.0 L1055.0,968.8 L1056.5,970.6 L1057.9,970.3 L1059.3,969.6 L1060.7,970.2 L1062.1,969.7 L1063.5,971.3 L1065.0,970.9 L1066.4,972.8 L1067.8,972.5 L1069.2,972.5 L1070.6,972.1 L1071.9,973.1 L1073.3,972.7 L1074.7,974.4 L1076.1,973.3 L1077.5,974.1 L1078.9,974.6 L1080.2,974.3 L1081.6,975.7 L1083.0,975.4 L1084.4,976.2 L1085.8,976.5 L1087.2,976.1 L1088.5,976.2 L1089.9,975.6 L1091.3,976.7 L1092.7,977.9 L1094.1,977.5 L1095.4,978.4 L1096.8,977.4 L1098.2,978.4 L1099.6,978.5 L1100.9,979.0 L1102.3,978.8 L1103.7,978.3 L1105.1,978.9 L1106.4,979.0 L1107.8,979.0 L1109.2,980.8 L1110.6,980.5 L1111.9,980.9 L1113.3,982.6 L1114.7,982.5 L1116.1,983.9 L1117.5,984.3 L1118.8,982.6 L1120.2,982.4 L1121.6,981.7 L1123.0,983.4 L1124.3,984.3 L1125.7,984.0 L1127.1,984.1 L1128.5,985.0 L1129.8,985.7 L1131.2,984.9 L1132.6,986.4 L1134.0,985.8 L1135.3,986.5 L1136.7,985.7 L1138.1,986.1 L1139.5,987.6 L1140.9,988.3 L1142.2,988.7 L1143.6,987.2 L1145.0,986.8 L1146.4,987.1 L1147.8,987.5 L1149.2,988.2 L1150.5,988.9 L1151.9,988.5 L1153.3,989.2 L1154.7,990.7 L1156.1,990.2 L1157.5,992.1 L1158.8,992.3 L1160.2,993.1 L1161.6,992.5 L1163.0,992.6 L1164.4,993.6 L1165.7,993.2 L1167.1,992.3 L1168.5,994.4 L1169.9,995.3 L1171.2,994.5 L1172.6,993.6 L1174.0,995.7 L1175.4,996.1 L1176.7,994.8 L1178.1,995.0 L1179.5,994.9 L1180.9,996.9 L1182.2,996.3 L1183.6,998.2 L1185.0,998.1 L1186.4,997.4 L1187.8,998.6 L1189.1,998.5 L1190.5,999.7 L1191.9,1000.6 L1193.3,999.7 L1194.6,998.9 L1196.0,1001.1 L1197.4,1000.9 L1198.8,1002.4 L1200.1,1002.6 L1201.5,1003.0 L1202.9,1003.6 L1204.3,1003.5 L1205.6,1003.1 L1207.0,1002.1 L1208.4,1003.5 L1209.8,1003.4 L1211.2,1003.6 L1212.5,1004.9 L1213.9,1003.3 L1215.3,1004.4 L1216.7,1002.9 L1218.1,1004.1 L1219.5,1005.0 L1220.8,1003.9 L1222.2,1004.2 L1223.6,1005.6 L1225.0,1005.3 L1226.4,1005.0 L1227.8,1004.0 L1229.1,1003.1 L1230.5,1003.6 L1231.9,1004.4 L1233.3,1003.8 L1234.7,1004.1 L1236.0,1003.9 L1237.4,1005.5 L1238.8,1006.3 L1240.2,1005.5 L1241.5,1005.3 L1242.9,1006.1 L1244.3,1006.4 L1245.7,1008.1 L1247.0,1007.3 L1248.4,1006.9 L1249.8,1008.5 L1251.2,1007.3 L1252.5,1008.0 L1253.9,1007.9 L1255.3,1008.9 L1256.7,1009.3 L1258.1,1010.0 L1259.4,1008.8 L1260.8,1009.8 L1262.2,1010.1 L1263.6,1010.0 L1265.0,1011.0 L1266.4,1011.7 L1267.7,1010.2 L1269.1,1010.1 L1270.5,1010.4 L1271.9,1010.2 L1273.3,1009.8 L1274.7,1010.4 L1276.0,1010.6 L1277.4,1012.2 L1278.8,1012.4 L1280.2,1011.5 L1281.6,1011.8 L1282.9,1012.4 L1284.3,1012.5 L1285.7,1012.1 L1287.1,1011.7 L1288.4,1011.5 L1289.8,1014.2 L1291.2,1014.8 L1292.6,1013.3 L1293.9,1014.5 L1295.3,1015.9 L1296.7,1015.4 L1298.1,1014.0 L1299.4,1014.5 L1300.8,1014.7 L1302.2,1014.8 L1303.6,1015.1 L1305.0,1014.1 L1306.3,1016.4 L1307.7,1016.7 L1309.1,1017.0 L1310.5,1018.1 L1311.8,1017.9 L1313.2,1016.8 L1314.6,1016.5 L1316.0,1016.1 L1317.3,1015.8 L1318.7,1017.8 L1320.1,1019.1 L1321.5,1018.2 L1322.8,1017.7 L1324.2,1018.8 L1325.6,1019.5 L1327.1,1021.2 L1328.5,1019.9 L1330.0,1021.3 L1331.4,1022.3 L1332.9,1022.8 L1334.4,1022.1 L1335.8,1021.7 L1337.3,1023.2 L1338.7,1022.7 L1340.0,1022.5 L1341.4,1022.9 L1342.8,1022.6 L1344.2,1023.7 L1345.5,1022.6 L1346.9,1021.5 L1348.3,1022.5 L1349.6,1023.1 L1351.0,1023.0" fill="none" stroke="#00662D" stroke-width="6.4" stroke-linejoin="round" stroke-linecap="butt" shape-rendering="crispEdges"/>
<path d="M171.9,1042.1 L173.2,1045.9 L174.6,1049.6 L175.9,1053.1 L177.3,1054.7 L178.6,1056.9 L180.2,1058.8 L181.7,1061.8 L183.2,1065.8 L184.8,1068.5 L186.1,1072.8 L187.3,1075.4 L188.6,1079.6 L189.8,1084.5 L191.4,1085.4 L192.9,1086.4 L194.4,1089.4 L196.0,1092.1 L197.6,1096.2 L199.1,1097.9 L200.6,1103.4 L202.2,1107.0 L203.8,1110.5 L205.3,1111.8 L206.8,1113.3 L208.4,1116.4 L209.7,1117.1 L210.9,1117.4 L212.2,1117.5 L213.4,1118.6 L214.7,1122.2 L215.9,1126.3 L217.2,1130.0 L218.4,1131.1 L219.9,1131.3 L221.5,1132.5 L223.1,1134.0 L224.6,1134.8 L226.2,1136.2 L227.7,1138.0 L229.2,1140.9 L230.8,1144.6 L232.4,1145.5 L233.9,1145.6 L235.4,1145.1 L237.0,1143.4 L238.6,1145.3 L240.1,1144.4 L241.6,1144.8 L243.2,1142.9 L244.7,1143.8 L246.2,1144.4 L247.7,1143.8 L249.2,1144.6 L250.7,1145.5 L252.2,1146.2 L253.8,1146.9 L255.3,1146.4 L256.9,1147.1 L258.1,1147.6 L259.4,1144.6 L260.6,1144.3 L262.2,1146.0 L263.7,1147.2 L265.2,1147.1 L266.8,1149.8 L268.1,1150.6 L269.3,1152.4 L270.6,1153.3 L271.8,1154.8 L273.1,1157.8 L274.3,1160.1 L275.6,1161.8 L276.8,1165.3 L278.4,1167.4 L280.1,1168.1 L281.7,1168.0 L282.9,1172.0 L284.2,1173.6 L285.4,1175.3 L286.7,1179.5 L288.2,1179.8 L289.8,1181.7 L291.3,1183.4 L292.9,1184.3 L294.4,1184.8 L295.9,1183.8 L297.4,1184.8 L298.9,1185.7 L300.4,1185.3 L301.9,1186.5 L303.5,1187.1 L305.1,1189.5 L306.6,1192.4 L308.1,1192.9 L309.6,1193.6 L311.1,1194.2 L312.6,1192.4 L314.1,1193.9 L315.6,1194.8 L317.1,1192.7 L318.5,1194.2 L320.0,1193.4 L321.5,1193.0 L323.0,1195.3 L324.5,1195.9 L326.0,1197.3 L327.5,1196.2 L329.0,1198.1 L330.5,1196.7 L332.0,1196.6 L333.4,1197.0 L334.9,1196.1 L336.4,1198.0 L337.9,1197.0 L339.4,1197.1 L340.9,1198.4 L342.4,1198.1 L343.9,1198.8 L345.4,1198.8 L346.9,1199.0 L348.3,1197.8 L349.8,1198.2 L351.3,1196.7 L352.8,1195.6 L354.3,1196.3 L355.8,1195.2 L357.3,1196.1 L358.8,1195.5 L360.3,1195.5 L361.8,1192.3 L363.3,1191.1 L364.8,1191.2 L366.3,1190.3 L367.8,1190.9 L369.3,1188.3 L370.7,1188.8 L372.2,1187.3 L373.7,1188.2 L374.9,1188.0 L376.2,1185.0 L377.4,1185.7 L378.7,1183.8 L380.2,1179.3 L381.8,1174.7 L383.3,1171.5 L384.9,1168.8 L386.1,1164.2 L387.4,1157.5 L388.6,1151.5 L389.9,1147.7 L391.1,1135.4 L392.4,1121.1 L393.6,1108.8 L395.1,1083.2 L396.6,1059.2 L398.2,1031.5 L399.8,1004.0 L401.4,980.3 L403.0,954.9 L404.5,943.8 L406.0,931.8 L407.5,945.1 L409.0,954.4 L410.6,978.8 L412.2,1003.9 L413.5,1022.0 L414.7,1041.9 L416.0,1059.7 L417.2,1073.1 L418.5,1087.5 L419.7,1104.1 L420.9,1113.8 L422.2,1122.1 L423.4,1131.2 L424.6,1134.7 L425.9,1141.2 L427.1,1145.1 L428.4,1150.4 L429.6,1152.7 L430.9,1152.6 L432.1,1154.4 L433.4,1156.7 L434.9,1157.3 L436.4,1156.4 L437.8,1153.8 L439.3,1152.6 L440.8,1153.1 L442.2,1153.0 L443.7,1153.8 L445.1,1153.5 L446.5,1153.3 L447.9,1152.1 L449.4,1153.6 L450.8,1154.0 L452.2,1151.8 L453.6,1152.3 L455.0,1154.1 L456.5,1151.5 L457.9,1150.4 L459.3,1151.4 L460.7,1150.8 L462.1,1149.8 L463.6,1150.2 L465.0,1149.5 L466.4,1150.2 L467.8,1150.2 L469.3,1151.6 L470.7,1150.8 L472.2,1149.9 L473.7,1150.9 L475.1,1152.3 L476.6,1153.6 L478.1,1153.1 L479.4,1153.6 L480.8,1153.4 L482.1,1152.4 L483.5,1151.7 L484.8,1153.1 L486.2,1154.0 L487.5,1153.3 L489.0,1153.1 L490.5,1150.7 L491.9,1150.7 L493.4,1150.2 L494.9,1148.3 L496.4,1148.9 L498.0,1148.2 L499.6,1148.6 L501.1,1148.5 L502.7,1144.5 L504.2,1142.4 L505.8,1140.0 L507.3,1139.2 L508.8,1138.6 L510.3,1137.4 L511.8,1136.2 L513.3,1135.4 L514.8,1135.8 L516.0,1132.3 L517.3,1129.4 L518.5,1129.8 L519.8,1127.5 L521.3,1126.3 L522.8,1125.6 L524.2,1123.9 L525.7,1122.1 L527.2,1121.7 L528.8,1118.1 L530.3,1115.5 L531.9,1114.2 L533.4,1111.4 L534.6,1107.3 L535.9,1100.3 L537.1,1096.1 L538.4,1089.4 L539.6,1076.4 L540.9,1064.3 L542.1,1054.0 L543.4,1040.7 L544.6,1024.5 L545.9,1009.8 L547.1,998.0 L548.4,987.5 L549.6,974.3 L550.8,968.0 L552.1,963.4 L553.3,955.9 L554.5,952.7 L555.8,950.5 L557.4,954.7 L559.0,961.5 L560.4,969.6 L561.9,976.1 L563.3,984.3 L564.5,996.5 L565.8,1010.8 L567.0,1024.7 L568.2,1037.1 L569.5,1047.4 L570.8,1060.3 L572.0,1072.3 L573.6,1083.1 L575.3,1091.4 L576.9,1102.9 L578.2,1105.0 L579.4,1104.4 L580.7,1104.6 L581.9,1101.5 L583.2,1100.4 L584.4,1099.3 L585.6,1096.1 L586.9,1093.3 L588.1,1087.6 L589.4,1083.7 L590.9,1074.6 L592.3,1064.9 L593.8,1054.2 L595.2,1045.7 L596.7,1035.7 L598.1,1026.1 L599.7,1017.5 L601.4,1008.3 L603.0,1001.8 L604.3,997.6 L605.5,994.3 L606.8,991.1 L608.0,992.6 L609.3,995.3 L610.5,997.5 L611.7,1001.7 L613.0,1004.5 L614.2,1007.7 L615.5,1013.1 L616.7,1020.7 L618.0,1028.3 L619.2,1034.2 L620.5,1041.5 L621.7,1049.9 L623.0,1058.4 L624.2,1069.1 L625.8,1078.5 L627.5,1091.1 L629.1,1101.4 L630.4,1108.3 L631.6,1115.4 L632.9,1122.2 L634.1,1129.0 L635.3,1135.2 L636.6,1140.0 L637.8,1146.4 L639.1,1148.6 L640.3,1152.6 L641.6,1156.2 L642.8,1159.5 L644.1,1161.1 L645.6,1162.6 L647.2,1164.3 L648.8,1163.7 L650.3,1163.3 L651.5,1166.8 L652.8,1171.8 L654.0,1173.2 L655.2,1176.4 L656.8,1176.2 L658.4,1177.3 L659.9,1178.2 L661.5,1177.2 L663.0,1178.9 L664.6,1177.0 L666.2,1178.0 L667.7,1176.8 L669.2,1177.0 L670.8,1178.8 L672.4,1180.4 L673.9,1184.3 L675.4,1185.4 L676.9,1185.4 L678.3,1188.6 L679.8,1188.6 L681.3,1189.1 L682.6,1190.0 L683.8,1193.7 L685.1,1197.1 L686.3,1197.1 L687.6,1198.9 L689.0,1201.0 L690.5,1201.2 L692.0,1204.6 L693.4,1205.1 L694.8,1206.5 L696.3,1206.9 L697.5,1210.0 L698.8,1211.5 L700.0,1213.1 L701.2,1214.8 L702.5,1213.1 L703.8,1214.6 L705.0,1214.0 L706.2,1216.9 L707.5,1219.1 L708.7,1222.4 L710.2,1221.5 L711.7,1222.7 L713.1,1223.0 L714.6,1225.2 L716.1,1225.2 L717.5,1225.1 L719.0,1222.8 L720.5,1221.6 L721.9,1220.7 L723.3,1220.5 L724.8,1220.2 L726.1,1218.4 L727.3,1219.4 L728.6,1219.0 L729.8,1217.3 L731.1,1217.6 L732.6,1218.0 L734.2,1219.6 L735.8,1219.6 L737.3,1222.3 L738.8,1225.1 L740.4,1225.0 L742.0,1227.5 L743.5,1228.8 L744.9,1228.5 L746.3,1228.3 L747.7,1228.9 L749.2,1230.8 L750.6,1229.4 L752.0,1230.7 L753.4,1230.9 L754.9,1231.5 L756.4,1232.5 L757.9,1234.4 L759.4,1233.3 L760.9,1234.9 L762.4,1235.9 L763.9,1238.3 L765.3,1240.5 L766.8,1240.0 L768.3,1242.2 L769.6,1244.5 L770.8,1243.1 L772.1,1241.8 L773.3,1241.8 L774.6,1244.6 L776.1,1244.5 L777.7,1248.2 L779.2,1248.1 L780.8,1250.7 L782.2,1249.9 L783.6,1249.9 L785.0,1252.0 L786.5,1251.2 L787.9,1252.0 L789.3,1254.6 L790.7,1254.8 L792.1,1256.3 L793.6,1257.1 L795.0,1254.3 L796.4,1253.9 L797.8,1255.6 L799.3,1256.2 L800.7,1255.0 L802.2,1255.5 L803.7,1255.4 L805.1,1256.2 L806.6,1255.8 L808.1,1257.0 L809.5,1259.0 L811.0,1258.4 L812.4,1260.2 L813.8,1258.6 L815.2,1259.4 L816.7,1258.7 L818.1,1260.1 L819.5,1259.4 L821.0,1261.3 L822.4,1260.6 L823.8,1262.5 L825.2,1262.8 L826.6,1261.9 L828.1,1262.5 L829.5,1263.8 L830.9,1265.3 L832.3,1264.3 L833.7,1263.5 L835.1,1265.7 L836.5,1266.5 L837.9,1266.4 L839.3,1264.9 L840.7,1264.0 L842.1,1263.9 L843.5,1263.3 L844.9,1263.0 L846.3,1264.5 L847.7,1265.0 L849.1,1265.8 L850.5,1265.4 L851.9,1264.1 L853.3,1265.9 L854.7,1266.6 L856.1,1266.5 L857.5,1266.6 L858.9,1267.1 L860.2,1268.4 L861.6,1268.6 L863.0,1268.2 L864.4,1267.0 L865.8,1266.2 L867.2,1266.2 L868.6,1267.3 L870.0,1267.3 L871.3,1267.0 L872.7,1267.2 L874.1,1266.5 L875.5,1269.3 L876.8,1267.4 L878.2,1268.7 L879.6,1270.6 L880.9,1269.3 L882.3,1269.9 L883.7,1268.7 L885.0,1267.2 L886.4,1266.0 L887.7,1264.7 L889.1,1266.2 L890.5,1266.2 L891.8,1266.2 L893.2,1262.9 L894.5,1263.1 L895.9,1261.8 L897.3,1261.9 L898.7,1261.5 L900.1,1260.3 L901.5,1261.7 L902.9,1258.9 L904.3,1259.9 L905.7,1260.5 L907.1,1259.3 L908.5,1258.9 L909.9,1259.8 L911.3,1257.4 L912.7,1257.5 L914.1,1257.6 L915.5,1256.2 L916.9,1256.9 L918.3,1256.2 L919.6,1256.3 L921.0,1256.6 L922.4,1257.0 L923.8,1256.0 L925.1,1256.5 L926.5,1256.5 L927.9,1255.4 L929.3,1256.2 L930.6,1255.4 L932.0,1257.2 L933.4,1256.6 L934.8,1257.1 L936.1,1256.7 L937.5,1256.3 L938.9,1255.8 L940.3,1254.7 L941.7,1257.2 L943.1,1257.0 L944.5,1257.0 L945.9,1257.1 L947.3,1258.2 L948.6,1256.8 L950.0,1256.0 L951.4,1257.9 L952.8,1257.7 L954.2,1258.2 L955.6,1259.2 L957.0,1259.9 L958.4,1259.0 L959.8,1257.6 L961.2,1257.7 L962.6,1259.4 L964.0,1260.1 L965.4,1258.2 L966.8,1257.5 L968.2,1257.6 L969.6,1257.2 L971.0,1258.0 L972.4,1259.9 L973.8,1259.9 L975.2,1259.8 L976.6,1258.5 L978.0,1259.7 L979.3,1260.7 L980.6,1260.0 L981.9,1258.5 L983.2,1257.6 L984.5,1257.9 L985.8,1256.7 L987.3,1256.2 L988.7,1257.7 L990.2,1257.7 L991.6,1258.5 L993.1,1258.2 L994.6,1258.9 L996.0,1259.4 L997.5,1260.6 L998.9,1258.5 L1000.3,1258.1 L1001.8,1259.0 L1003.2,1257.4 L1004.6,1256.9 L1006.0,1258.2 L1007.4,1257.1 L1008.8,1256.5 L1010.3,1255.7 L1011.7,1257.2 L1013.1,1255.7 L1014.6,1255.2 L1016.1,1255.4 L1017.6,1252.8 L1019.1,1251.8 L1020.6,1252.1 L1022.1,1250.6 L1023.4,1251.4 L1024.8,1251.2 L1026.1,1253.1 L1027.4,1254.3 L1028.7,1256.8 L1030.0,1257.1 L1031.4,1258.3 L1032.7,1260.2 L1034.1,1261.7 L1035.5,1261.0 L1036.9,1261.0 L1038.3,1261.9 L1039.7,1263.7 L1041.1,1262.2 L1042.5,1264.4 L1043.8,1264.8 L1045.2,1264.0 L1046.6,1264.9 L1048.0,1264.4 L1049.4,1263.5 L1050.8,1265.6 L1052.2,1265.8 L1053.6,1265.6 L1055.0,1265.3 L1056.5,1266.4 L1057.9,1266.3 L1059.3,1263.5 L1060.7,1264.1 L1062.1,1263.8 L1063.5,1263.4 L1065.0,1264.4 L1066.4,1263.3 L1067.8,1262.8 L1069.2,1264.2 L1070.6,1263.4 L1072.0,1263.2 L1073.4,1263.2 L1074.8,1264.4 L1076.2,1264.4 L1077.5,1264.7 L1078.9,1263.7 L1080.3,1262.1 L1081.7,1263.6 L1083.1,1263.9 L1084.5,1264.8 L1085.9,1265.3 L1087.3,1263.7 L1088.7,1263.6 L1090.2,1263.6 L1091.6,1266.6 L1093.0,1266.0 L1094.4,1266.1 L1095.9,1268.9 L1097.3,1269.9 L1098.7,1269.1 L1100.1,1271.3 L1101.6,1272.9 L1103.0,1273.1 L1104.4,1272.1 L1105.8,1274.0 L1107.2,1274.1 L1108.6,1275.0 L1110.0,1277.1 L1111.4,1277.7 L1112.8,1278.4 L1114.1,1276.5 L1115.5,1276.6 L1116.9,1277.5 L1118.3,1276.4 L1119.7,1279.5 L1121.1,1278.7 L1122.5,1279.2 L1124.0,1279.0 L1125.4,1279.3 L1126.9,1281.7 L1128.3,1282.0 L1129.8,1282.3 L1131.3,1282.4 L1132.7,1281.4 L1134.2,1282.9 L1135.6,1284.2 L1137.0,1285.0 L1138.4,1285.6 L1139.8,1283.8 L1141.2,1282.9 L1142.6,1282.0 L1144.0,1283.3 L1145.4,1283.4 L1146.8,1283.8 L1148.2,1284.1 L1149.6,1284.6 L1151.0,1284.1 L1152.4,1285.5 L1153.8,1284.4 L1155.2,1286.2 L1156.6,1286.1 L1158.0,1284.5 L1159.4,1284.9 L1160.8,1286.0 L1162.2,1286.2 L1163.5,1287.0 L1164.9,1286.8 L1166.3,1286.7 L1167.7,1288.6 L1169.1,1287.9 L1170.5,1289.2 L1171.9,1290.3 L1173.3,1289.8 L1174.7,1289.9 L1176.1,1291.4 L1177.5,1290.6 L1178.9,1291.8 L1180.3,1289.7 L1181.7,1290.1 L1183.0,1291.2 L1184.4,1289.7 L1185.8,1292.0 L1187.2,1290.4 L1188.6,1291.6 L1190.0,1290.9 L1191.4,1293.2 L1192.8,1292.7 L1194.2,1293.9 L1195.6,1293.3 L1197.0,1293.7 L1198.4,1293.9 L1199.8,1292.8 L1201.2,1292.1 L1202.5,1294.0 L1203.9,1292.5 L1205.3,1294.5 L1206.7,1293.1 L1208.1,1292.2 L1209.5,1291.8 L1210.9,1294.0 L1212.3,1294.7 L1213.7,1294.7 L1215.1,1295.3 L1216.5,1294.3 L1217.9,1296.1 L1219.3,1296.4 L1220.7,1294.8 L1222.1,1293.8 L1223.5,1295.7 L1224.9,1294.5 L1226.3,1296.7 L1227.7,1296.0 L1229.1,1295.6 L1230.5,1296.7 L1231.9,1296.9 L1233.3,1297.6 L1234.7,1297.0 L1236.1,1299.5 L1237.5,1299.0 L1238.9,1300.8 L1240.3,1299.5 L1241.7,1301.4 L1243.0,1303.1 L1244.4,1302.2 L1245.8,1300.8 L1247.2,1301.7 L1248.6,1303.2 L1250.0,1302.8 L1251.4,1304.1 L1252.8,1302.9 L1254.2,1303.8 L1255.6,1305.2 L1257.0,1304.9 L1258.4,1305.7 L1259.8,1304.3 L1261.2,1306.2 L1262.5,1304.7 L1263.9,1306.9 L1265.3,1308.3 L1266.7,1308.8 L1268.1,1307.7 L1269.5,1306.5 L1270.9,1306.7 L1272.3,1307.7 L1273.7,1307.6 L1275.1,1309.1 L1276.5,1307.0 L1277.9,1307.5 L1279.3,1309.2 L1280.7,1309.1 L1282.1,1309.0 L1283.5,1307.5 L1284.9,1307.1 L1286.3,1307.5 L1287.7,1309.9 L1289.1,1311.0 L1290.5,1309.6 L1291.9,1311.4 L1293.3,1309.4 L1294.7,1310.7 L1296.1,1312.7 L1297.5,1311.7 L1298.9,1313.5 L1300.2,1313.5 L1301.6,1311.6 L1303.0,1312.0 L1304.4,1312.7 L1305.8,1312.6 L1307.2,1314.4 L1308.6,1313.5 L1310.0,1315.0 L1311.4,1314.4 L1312.8,1313.1 L1314.2,1314.3 L1315.6,1313.2 L1317.0,1314.2 L1318.4,1315.5 L1319.8,1315.5 L1321.1,1315.0 L1322.5,1313.3 L1323.9,1314.2 L1325.3,1313.1 L1326.7,1314.6 L1328.1,1313.4 L1329.5,1314.7 L1330.9,1314.3 L1332.4,1314.4 L1333.8,1315.6 L1335.2,1314.5 L1336.7,1314.1 L1338.1,1316.7 L1339.5,1315.8 L1341.0,1317.3 L1342.4,1318.2 L1343.8,1317.3 L1345.3,1315.9 L1346.7,1315.2 L1348.1,1317.6 L1349.6,1316.2 L1351.0,1317.5" fill="none" stroke="#FF6600" stroke-width="6.4" stroke-linejoin="round" stroke-linecap="butt" shape-rendering="crispEdges"/>
<path d="M171.9,1489.0 L173.2,1491.0 L174.6,1492.0 L175.9,1494.2 L177.3,1495.6 L178.6,1498.3 L180.1,1499.8 L181.6,1501.0 L183.0,1502.1 L184.5,1503.8 L186.0,1505.5 L187.5,1506.3 L189.0,1508.1 L190.5,1511.1 L192.0,1512.6 L193.5,1514.5 L195.0,1514.1 L196.5,1516.1 L198.0,1516.4 L199.5,1517.6 L201.0,1517.7 L202.5,1519.8 L204.0,1520.5 L205.4,1522.8 L206.9,1523.5 L208.4,1525.4 L209.9,1525.2 L211.4,1526.6 L212.9,1528.1 L214.4,1528.7 L215.9,1530.4 L217.4,1529.6 L218.9,1530.3 L220.3,1529.9 L221.8,1530.5 L223.3,1530.9 L224.9,1532.4 L226.4,1531.9 L227.9,1532.6 L229.5,1534.3 L230.8,1534.7 L232.0,1532.6 L233.3,1532.5 L234.5,1532.3 L235.8,1531.6 L237.4,1530.5 L238.9,1530.4 L240.4,1529.2 L242.0,1528.6 L243.2,1527.8 L244.4,1529.3 L245.7,1528.9 L246.9,1528.9 L248.2,1527.2 L249.4,1526.4 L250.7,1526.6 L251.9,1525.9 L253.4,1525.2 L254.9,1525.3 L256.4,1524.9 L257.9,1525.0 L259.4,1525.7 L260.9,1526.7 L262.4,1529.7 L263.8,1531.8 L265.3,1533.1 L266.8,1533.4 L268.4,1535.6 L269.9,1538.3 L271.4,1540.9 L273.0,1542.3 L274.5,1543.9 L276.0,1544.1 L277.5,1545.8 L279.0,1547.7 L280.5,1548.5 L281.8,1549.4 L283.0,1551.9 L284.2,1553.1 L285.5,1554.8 L286.9,1556.2 L288.4,1556.6 L289.9,1557.2 L291.3,1556.3 L292.8,1557.7 L294.2,1558.1 L295.6,1559.2 L297.0,1559.1 L298.4,1559.3 L299.9,1559.4 L301.3,1559.1 L302.7,1558.7 L304.1,1558.9 L305.6,1560.2 L307.0,1561.2 L308.5,1560.7 L309.9,1562.3 L311.4,1562.4 L312.8,1563.0 L314.3,1561.4 L315.8,1561.8 L317.3,1561.2 L318.8,1559.3 L320.3,1558.9 L321.9,1559.4 L323.6,1559.9 L325.2,1561.6 L326.7,1560.7 L328.2,1560.7 L329.7,1561.5 L331.2,1561.1 L332.7,1560.3 L334.1,1560.2 L335.6,1560.8 L337.0,1561.2 L338.5,1561.2 L339.9,1561.8 L341.4,1561.0 L342.8,1560.6 L344.3,1559.1 L345.8,1559.6 L347.2,1560.0 L348.7,1558.9 L350.1,1558.7 L351.6,1559.4 L353.0,1559.6 L354.5,1558.0 L355.9,1558.3 L357.4,1557.4 L358.8,1558.0 L360.3,1557.8 L361.8,1556.7 L363.3,1556.2 L364.8,1555.1 L366.3,1554.2 L367.8,1552.7 L369.3,1551.9 L370.7,1552.2 L372.2,1551.4 L373.7,1550.0 L374.9,1546.7 L376.2,1544.4 L377.4,1543.1 L378.7,1540.7 L379.9,1535.4 L381.2,1530.3 L382.4,1523.4 L383.7,1518.4 L384.9,1506.6 L386.2,1497.1 L387.4,1485.8 L389.0,1466.6 L390.6,1449.0 L392.4,1428.8 L394.1,1408.7 L395.7,1384.6 L397.3,1359.4 L398.8,1335.4 L400.3,1309.6 L401.6,1287.2 L403.0,1265.1 L404.2,1253.9 L405.5,1242.7 L406.8,1253.3 L408.0,1265.0 L409.5,1286.7 L411.0,1309.4 L412.6,1338.1 L414.2,1368.6 L415.9,1398.1 L417.5,1426.3 L419.2,1450.6 L420.9,1473.4 L422.5,1488.0 L424.2,1503.0 L425.6,1508.8 L427.0,1515.6 L428.4,1520.9 L429.9,1521.4 L431.5,1523.2 L433.1,1524.3 L434.6,1524.2 L436.2,1523.5 L437.7,1524.2 L439.2,1524.2 L440.8,1524.9 L442.1,1526.5 L443.3,1528.7 L444.6,1530.6 L445.8,1532.0 L447.4,1533.2 L448.9,1534.8 L450.4,1536.8 L452.0,1537.1 L453.6,1537.9 L455.1,1540.2 L456.6,1539.8 L458.2,1541.6 L459.7,1541.6 L461.2,1541.0 L462.7,1540.3 L464.2,1540.4 L465.7,1539.8 L467.1,1540.4 L468.6,1540.4 L470.0,1538.8 L471.5,1538.8 L472.9,1538.3 L474.4,1539.6 L475.8,1539.7 L477.2,1537.5 L478.7,1537.1 L480.1,1536.5 L481.5,1535.1 L482.9,1533.7 L484.3,1533.4 L485.7,1532.4 L487.0,1530.5 L488.4,1530.0 L489.8,1528.1 L491.2,1527.2 L492.6,1524.3 L494.1,1522.8 L495.5,1519.9 L497.0,1517.4 L498.4,1514.5 L499.9,1511.0 L501.4,1510.1 L502.9,1508.0 L504.3,1505.9 L505.8,1503.0 L507.3,1500.8 L508.8,1497.4 L510.3,1494.8 L511.8,1491.6 L513.3,1487.3 L514.8,1483.4 L516.3,1479.0 L517.9,1475.7 L519.5,1470.2 L521.0,1466.4 L522.5,1459.5 L524.1,1453.2 L525.7,1446.3 L527.2,1441.0 L528.8,1437.0 L530.3,1434.7 L531.9,1431.6 L533.4,1426.5 L534.9,1422.8 L536.3,1420.8 L537.8,1416.5 L539.2,1413.4 L540.6,1413.5 L541.9,1413.1 L543.2,1413.4 L544.6,1414.3 L545.9,1414.8 L547.1,1417.0 L548.4,1416.8 L549.6,1417.5 L550.9,1415.6 L552.1,1412.3 L553.4,1410.2 L554.6,1406.9 L555.8,1398.4 L557.1,1388.4 L558.3,1379.0 L559.5,1369.6 L560.8,1359.4 L562.0,1349.5 L563.3,1340.7 L564.5,1332.0 L565.8,1322.0 L567.0,1314.3 L568.3,1307.9 L569.5,1299.9 L570.8,1295.7 L572.0,1292.5 L573.2,1288.2 L574.5,1285.2 L575.7,1288.2 L577.0,1293.5 L578.2,1297.3 L579.6,1299.5 L581.0,1303.1 L582.4,1304.7 L583.9,1314.0 L585.4,1323.3 L586.9,1334.3 L588.1,1343.6 L589.4,1352.5 L590.6,1360.7 L591.9,1369.6 L593.5,1381.2 L595.2,1393.5 L596.8,1406.6 L598.0,1414.5 L599.3,1421.1 L600.5,1427.9 L601.8,1434.4 L603.3,1440.0 L604.8,1446.6 L606.3,1451.7 L607.5,1453.3 L608.8,1454.9 L610.0,1457.5 L611.2,1458.8 L612.6,1456.8 L614.0,1456.8 L615.3,1455.3 L616.7,1453.9 L618.0,1452.4 L619.2,1451.2 L620.5,1447.9 L621.7,1446.2 L623.0,1439.6 L624.2,1434.9 L625.7,1433.0 L627.1,1432.0 L628.6,1429.8 L629.9,1430.0 L631.1,1429.5 L632.4,1429.7 L633.6,1429.3 L635.0,1431.9 L636.4,1434.1 L637.7,1436.2 L639.1,1436.8 L640.4,1439.5 L641.6,1442.3 L642.9,1444.3 L644.1,1446.8 L645.7,1451.5 L647.4,1455.0 L649.0,1458.1 L650.2,1463.8 L651.5,1469.4 L652.8,1473.2 L654.0,1478.8 L655.2,1484.3 L656.5,1489.2 L657.8,1493.4 L659.0,1498.2 L660.5,1502.1 L662.1,1506.6 L663.7,1509.5 L665.2,1513.2 L666.8,1515.7 L668.3,1518.4 L669.9,1522.6 L671.4,1526.3 L673.0,1528.7 L674.5,1529.4 L676.0,1531.4 L677.6,1532.3 L679.0,1533.6 L680.5,1533.5 L682.0,1533.1 L683.4,1534.6 L684.8,1534.4 L686.3,1535.5 L687.5,1534.2 L688.8,1534.5 L690.0,1534.7 L691.3,1534.8 L692.8,1534.2 L694.3,1535.7 L695.7,1535.0 L697.2,1535.1 L698.7,1536.3 L700.2,1536.0 L701.6,1535.8 L703.0,1536.3 L704.5,1535.7 L706.0,1536.7 L707.4,1536.2 L708.9,1537.6 L710.4,1538.6 L711.9,1538.8 L713.4,1538.1 L714.9,1539.7 L716.5,1539.8 L718.0,1541.4 L719.5,1542.6 L721.1,1543.7 L722.5,1544.0 L723.9,1544.7 L725.3,1544.8 L726.7,1544.5 L728.1,1544.7 L729.5,1545.0 L730.9,1544.5 L732.3,1545.3 L733.8,1546.1 L735.2,1545.6 L736.6,1545.5 L738.1,1543.9 L739.5,1544.4 L741.0,1542.6 L742.5,1543.3 L743.9,1543.3 L745.4,1544.4 L746.8,1545.8 L748.2,1546.8 L749.7,1547.1 L751.2,1548.2 L752.6,1549.1 L754.0,1550.8 L755.5,1552.1 L757.0,1553.2 L758.4,1555.7 L759.9,1556.0 L761.4,1556.1 L762.9,1555.8 L764.4,1556.9 L765.9,1556.8 L767.3,1556.0 L768.7,1556.3 L770.1,1556.7 L771.5,1557.3 L772.8,1557.0 L774.2,1557.1 L775.6,1557.0 L777.0,1555.7 L778.5,1557.2 L780.0,1556.7 L781.5,1557.3 L783.0,1557.7 L784.5,1560.3 L786.0,1561.6 L787.4,1562.4 L788.9,1562.4 L790.3,1563.1 L791.8,1563.4 L793.2,1565.1 L794.7,1566.5 L796.1,1565.8 L797.5,1565.1 L799.0,1565.2 L800.5,1565.8 L801.9,1567.1 L803.1,1566.7 L804.4,1565.1 L805.6,1563.4 L807.0,1563.3 L808.5,1563.9 L810.0,1566.0 L811.4,1566.6 L812.8,1568.5 L814.3,1568.8 L815.7,1569.8 L817.1,1569.4 L818.4,1570.1 L819.8,1569.1 L821.2,1568.8 L822.6,1569.8 L824.0,1570.4 L825.4,1570.1 L826.7,1570.3 L828.1,1570.0 L829.5,1571.9 L830.9,1573.1 L832.4,1574.5 L833.8,1575.5 L835.2,1575.2 L836.6,1576.1 L838.1,1576.1 L839.5,1577.5 L840.9,1578.6 L842.3,1577.9 L843.8,1577.7 L845.2,1579.1 L846.6,1578.9 L848.0,1578.5 L849.4,1577.3 L850.8,1578.4 L852.2,1578.6 L853.6,1577.8 L855.0,1576.4 L856.3,1577.4 L857.7,1576.9 L859.1,1575.4 L860.5,1575.2 L861.9,1575.5 L863.3,1576.1 L864.7,1575.0 L866.1,1575.3 L867.5,1574.3 L868.8,1573.9 L870.2,1575.2 L871.6,1574.6 L873.0,1573.6 L874.3,1574.3 L875.7,1573.5 L877.1,1573.2 L878.5,1573.7 L879.8,1574.1 L881.2,1574.4 L882.6,1574.6 L884.0,1574.1 L885.3,1573.0 L886.7,1574.0 L888.1,1573.4 L889.5,1573.4 L890.9,1573.5 L892.2,1574.2 L893.6,1574.6 L895.0,1573.8 L896.4,1574.4 L897.8,1574.8 L899.2,1574.5 L900.5,1573.7 L901.9,1575.0 L903.3,1575.0 L904.7,1573.8 L906.1,1573.7 L907.5,1575.4 L908.8,1574.5 L910.2,1574.5 L911.6,1575.1 L913.0,1575.9 L914.4,1575.7 L915.7,1575.9 L917.1,1574.5 L918.5,1574.0 L919.9,1575.7 L921.2,1576.1 L922.6,1574.7 L924.0,1574.1 L925.4,1574.2 L926.7,1575.9 L928.1,1575.0 L929.5,1575.7 L930.9,1576.6 L932.2,1576.4 L933.6,1576.9 L935.0,1575.7 L936.4,1574.8 L937.8,1574.1 L939.1,1575.3 L940.5,1574.4 L941.9,1575.8 L943.3,1575.8 L944.6,1574.6 L946.0,1575.3 L947.4,1574.2 L948.8,1574.4 L950.1,1573.5 L951.5,1574.6 L952.9,1575.2 L954.3,1575.5 L955.6,1573.5 L957.0,1574.5 L958.4,1573.9 L959.8,1574.7 L961.2,1574.3 L962.5,1574.4 L963.9,1574.5 L965.3,1575.0 L966.7,1573.6 L968.1,1573.0 L969.5,1573.9 L970.8,1573.7 L972.2,1573.9 L973.6,1573.2 L975.0,1574.5 L976.4,1573.6 L977.8,1574.9 L979.1,1575.6 L980.5,1575.1 L981.9,1574.6 L983.3,1574.9 L984.7,1574.2 L986.0,1574.4 L987.4,1573.7 L988.8,1575.4 L990.2,1575.1 L991.5,1574.6 L992.9,1573.7 L994.3,1574.8 L995.7,1575.5 L997.0,1575.8 L998.4,1574.2 L999.8,1574.1 L1001.2,1573.9 L1002.5,1574.8 L1003.9,1573.9 L1005.3,1574.5 L1006.7,1575.4 L1008.0,1575.3 L1009.4,1573.5 L1010.7,1572.7 L1012.1,1572.4 L1013.4,1573.4 L1014.8,1573.6 L1016.1,1573.4 L1017.5,1573.1 L1018.8,1572.8 L1020.2,1573.0 L1021.5,1573.1 L1022.9,1573.0 L1024.3,1573.8 L1025.6,1574.2 L1027.0,1574.7 L1028.4,1574.9 L1029.8,1574.8 L1031.1,1573.4 L1032.5,1574.4 L1033.9,1575.3 L1035.2,1574.9 L1036.6,1575.3 L1038.1,1574.4 L1039.5,1575.3 L1041.0,1574.4 L1042.4,1574.5 L1043.9,1573.4 L1045.4,1572.9 L1046.8,1572.6 L1048.3,1572.7 L1049.7,1572.2 L1051.1,1573.1 L1052.6,1574.8 L1054.0,1575.1 L1055.4,1576.0 L1056.8,1576.3 L1058.2,1576.7 L1059.6,1577.5 L1061.1,1577.5 L1062.5,1576.6 L1063.9,1576.7 L1065.3,1576.5 L1066.7,1575.8 L1068.1,1575.9 L1069.5,1577.5 L1070.9,1578.3 L1072.3,1577.3 L1073.7,1577.9 L1075.0,1578.3 L1076.4,1578.7 L1077.8,1578.7 L1079.2,1578.1 L1080.6,1577.0 L1082.0,1578.1 L1083.4,1577.6 L1084.8,1578.2 L1086.2,1578.0 L1087.6,1578.5 L1089.0,1579.8 L1090.4,1578.8 L1091.8,1579.3 L1093.2,1580.0 L1094.6,1580.1 L1096.0,1581.3 L1097.4,1580.8 L1098.8,1581.8 L1100.2,1581.9 L1101.6,1582.7 L1103.0,1581.5 L1104.4,1581.2 L1105.8,1581.5 L1107.2,1583.1 L1108.6,1582.1 L1110.0,1582.4 L1111.4,1583.7 L1112.8,1585.1 L1114.1,1584.1 L1115.5,1584.4 L1116.9,1585.3 L1118.3,1585.9 L1119.7,1586.4 L1121.1,1586.9 L1122.5,1586.2 L1123.9,1585.9 L1125.3,1585.3 L1126.7,1586.6 L1128.1,1586.2 L1129.5,1586.3 L1130.9,1587.9 L1132.2,1588.1 L1133.6,1588.1 L1135.0,1588.3 L1136.4,1588.4 L1137.8,1588.7 L1139.2,1588.1 L1140.6,1587.4 L1142.0,1588.0 L1143.4,1587.2 L1144.8,1588.2 L1146.2,1588.3 L1147.6,1588.5 L1149.0,1589.6 L1150.4,1591.4 L1151.8,1591.7 L1153.2,1591.1 L1154.6,1592.1 L1156.0,1591.5 L1157.4,1591.2 L1158.8,1591.7 L1160.2,1592.3 L1161.6,1593.4 L1163.0,1593.3 L1164.4,1593.9 L1165.7,1592.8 L1167.1,1594.2 L1168.5,1593.6 L1169.9,1594.4 L1171.2,1593.1 L1172.6,1594.3 L1174.0,1593.5 L1175.4,1594.6 L1176.7,1595.0 L1178.1,1594.9 L1179.5,1594.1 L1180.9,1593.2 L1182.2,1593.2 L1183.6,1594.8 L1185.0,1594.3 L1186.4,1594.7 L1187.8,1594.9 L1189.2,1595.3 L1190.6,1594.4 L1192.0,1594.0 L1193.4,1593.8 L1194.8,1595.7 L1196.1,1595.3 L1197.5,1595.8 L1198.9,1595.9 L1200.3,1595.2 L1201.7,1594.6 L1203.1,1594.3 L1204.5,1596.0 L1205.9,1595.6 L1207.3,1597.4 L1208.7,1597.1 L1210.1,1597.9 L1211.5,1597.2 L1212.9,1598.6 L1214.3,1598.2 L1215.7,1598.4 L1217.1,1599.1 L1218.5,1598.7 L1219.9,1599.0 L1221.3,1600.6 L1222.7,1600.4 L1224.1,1600.9 L1225.5,1601.8 L1226.9,1601.2 L1228.3,1601.1 L1229.7,1601.2 L1231.1,1601.8 L1232.5,1602.2 L1233.8,1603.1 L1235.2,1603.3 L1236.6,1604.4 L1238.0,1603.3 L1239.4,1604.2 L1240.8,1605.2 L1242.2,1604.5 L1243.6,1604.5 L1245.0,1604.5 L1246.4,1604.1 L1247.7,1604.8 L1249.1,1605.7 L1250.5,1604.8 L1251.9,1604.5 L1253.2,1605.2 L1254.6,1605.0 L1256.0,1605.0 L1257.4,1605.6 L1258.7,1605.2 L1260.1,1605.0 L1261.5,1605.6 L1262.9,1606.1 L1264.2,1607.5 L1265.6,1607.3 L1267.0,1606.7 L1268.4,1606.2 L1269.8,1607.3 L1271.1,1607.5 L1272.5,1608.3 L1273.9,1609.0 L1275.3,1609.1 L1276.7,1607.6 L1278.1,1608.8 L1279.4,1608.5 L1280.8,1607.7 L1282.2,1607.3 L1283.6,1608.7 L1285.0,1608.0 L1286.4,1607.4 L1287.7,1607.7 L1289.1,1609.3 L1290.5,1609.0 L1291.9,1609.6 L1293.3,1608.5 L1294.6,1609.0 L1296.0,1608.9 L1297.4,1608.8 L1298.8,1609.8 L1300.1,1609.7 L1301.5,1609.2 L1302.9,1611.0 L1304.3,1610.7 L1305.6,1610.1 L1307.0,1609.5 L1308.4,1610.7 L1309.8,1611.0 L1311.1,1610.2 L1312.5,1610.9 L1313.9,1611.7 L1315.3,1611.9 L1316.7,1611.3 L1318.1,1611.6 L1319.5,1612.1 L1320.9,1612.4 L1322.3,1611.5 L1323.7,1612.6 L1325.0,1613.4 L1326.4,1613.4 L1327.8,1613.7 L1329.2,1612.8 L1330.6,1613.6 L1332.0,1612.5 L1333.4,1612.5 L1334.8,1612.8 L1336.1,1613.9 L1337.5,1612.7 L1338.8,1612.5 L1340.2,1612.2 L1341.5,1613.0 L1342.9,1612.7 L1344.2,1612.8 L1345.6,1614.2 L1346.9,1614.5 L1348.3,1615.5 L1349.6,1614.9 L1351.0,1614.8" fill="none" stroke="#EB3000" stroke-width="6.4" stroke-linejoin="round" stroke-linecap="butt" shape-rendering="crispEdges"/>
<rect x="155" y="29" width="6" height="1614" fill="#000"/>
<rect x="155" y="29" width="1201" height="5" fill="#000"/>
<rect x="1351" y="29" width="5" height="1612" fill="#000"/>
<rect x="155" y="1636" width="1198" height="7" fill="#000"/>
<rect x="159" y="1641" width="1" height="26" fill="#000" shape-rendering="crispEdges"/>
<rect x="268" y="1641" width="1" height="49" fill="#000" shape-rendering="crispEdges"/>
<rect x="377" y="1641" width="1" height="26" fill="#000" shape-rendering="crispEdges"/>
<rect x="485" y="1641" width="1" height="49" fill="#000" shape-rendering="crispEdges"/>
<rect x="594" y="1641" width="1" height="26" fill="#000" shape-rendering="crispEdges"/>
<rect x="702" y="1641" width="1" height="49" fill="#000" shape-rendering="crispEdges"/>
<rect x="810" y="1641" width="1" height="26" fill="#000" shape-rendering="crispEdges"/>
<rect x="919" y="1641" width="1" height="49" fill="#000" shape-rendering="crispEdges"/>
<rect x="1027" y="1641" width="1" height="26" fill="#000" shape-rendering="crispEdges"/>
<rect x="1135" y="1641" width="1" height="49" fill="#000" shape-rendering="crispEdges"/>
<rect x="1244" y="1641" width="1" height="26" fill="#000" shape-rendering="crispEdges"/>
<rect x="1353" y="1641" width="1" height="49" fill="#000" shape-rendering="crispEdges"/>
<text transform="matrix(0.9493 0 0 1.0165 230.15 1784.34)" font-size="81" fill="#000" class="s">10</text>
<text transform="matrix(0.9893 0 0 1.0165 443.34 1784.34)" font-size="81" fill="#000" class="s">20</text>
<text transform="matrix(0.9905 0 0 1.0165 661.54 1784.34)" font-size="81" fill="#000" class="s">30</text>
<text transform="matrix(0.9922 0 0 1.0165 878.71 1784.34)" font-size="81" fill="#000" class="s">40</text>
<text transform="matrix(1.0102 0 0 1.0165 1093.80 1784.34)" font-size="81" fill="#000" class="s">50</text>
<text transform="matrix(0.9933 0 0 1.0165 1311.92 1784.34)" font-size="81" fill="#000" class="s">60</text>
<text transform="matrix(1.0311 0 0 1.0286 601.59 1873.00)" font-size="78" fill="#000" class="s">2 theta</text>
<polygon points="835.6,1873.9 839.0,1873.9 858.3,1816.8 854.9,1816.8" fill="#000"/>
<circle cx="894" cy="1831" r="10.75" fill="none" stroke="#000" stroke-width="2.7"/>
<text transform="translate(83.65,1258.53) rotate(-90) scale(0.9787,0.9912)" font-size="81" class="s">Arbitrary units / counts</text>
<text transform="matrix(1.2123 0 0 0.9893 931.98 380.10)" font-size="60" fill="#439A23" class="s">PPF  film ann.</text>
<text transform="matrix(1.2132 0 0 0.9834 1071.98 633.75)" font-size="60" fill="#00FF00" class="s">PPF film</text>
<text transform="matrix(1.2202 0 0 0.9952 987.26 929.40)" font-size="60" fill="#00662D" class="s">PPF powder</text>
<text transform="matrix(1.2133 0 0 1.0047 1039.18 1233.75)" font-size="60" fill="#FF6600" class="s">PPTF film</text>
<text transform="matrix(1.2188 0 0 1.0012 942.87 1543.75)" font-size="60" fill="#EB3000" class="s">PPTF powder</text>
</svg>
</body></html>
